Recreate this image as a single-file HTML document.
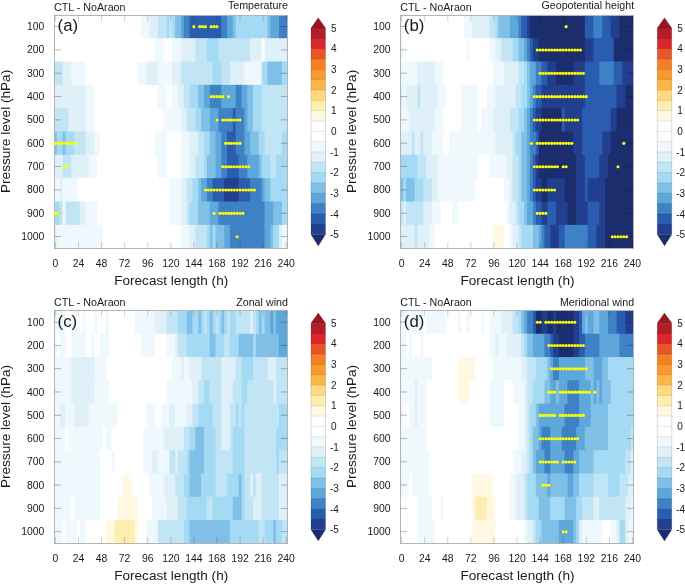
<!DOCTYPE html>
<html><head><meta charset="utf-8"><style>
html,body{margin:0;padding:0;background:#fff;}
body{width:685px;height:584px;overflow:hidden;}
svg{display:block;}
text{font-family:"Liberation Sans",sans-serif;fill:#1a1a1a;}
.tt{font-size:10.7px;}
.tk{font-size:10.4px;}
.cb{font-size:10px;}
.ax{font-size:13.6px;}
.pl{font-size:16.8px;}
</style></head><body>
<svg width="685" height="584" viewBox="0 0 685 584" style="will-change:transform">
<rect width="685" height="584" fill="#fff"/>
<clipPath id="cpa"><rect x="54.50" y="14.85" width="233.10" height="233.35"/></clipPath>
<g clip-path="url(#cpa)">
<rect x="53.96" y="14.85" width="87.55" height="24.34" fill="#ffffff"/>
<rect x="140.51" y="14.85" width="9.66" height="24.34" fill="#eff8fc"/>
<rect x="149.16" y="14.85" width="9.66" height="24.34" fill="#dff0f9"/>
<rect x="157.82" y="14.85" width="9.66" height="24.34" fill="#c2e5f6"/>
<rect x="166.47" y="14.85" width="3.88" height="24.34" fill="#a4daf4"/>
<rect x="169.36" y="14.85" width="3.88" height="24.34" fill="#c2e5f6"/>
<rect x="172.24" y="14.85" width="3.89" height="24.34" fill="#a4daf4"/>
<rect x="175.13" y="14.85" width="6.77" height="24.34" fill="#80c0e7"/>
<rect x="180.90" y="14.85" width="3.89" height="24.34" fill="#5ea7da"/>
<rect x="183.78" y="14.85" width="6.77" height="24.34" fill="#3f81c5"/>
<rect x="189.55" y="14.85" width="32.73" height="24.34" fill="#2a5cb0"/>
<rect x="221.29" y="14.85" width="6.77" height="24.34" fill="#3f81c5"/>
<rect x="227.06" y="14.85" width="6.77" height="24.34" fill="#5ea7da"/>
<rect x="232.83" y="14.85" width="3.89" height="24.34" fill="#80c0e7"/>
<rect x="235.71" y="14.85" width="32.73" height="24.34" fill="#a4daf4"/>
<rect x="267.45" y="14.85" width="3.88" height="24.34" fill="#80c0e7"/>
<rect x="270.33" y="14.85" width="9.65" height="24.34" fill="#5ea7da"/>
<rect x="278.99" y="14.85" width="8.66" height="24.34" fill="#3f81c5"/>
<rect x="53.96" y="38.19" width="101.98" height="24.34" fill="#ffffff"/>
<rect x="154.93" y="38.19" width="9.65" height="24.34" fill="#eff8fc"/>
<rect x="163.59" y="38.19" width="9.66" height="24.34" fill="#ffffff"/>
<rect x="172.24" y="38.19" width="9.66" height="24.34" fill="#eff8fc"/>
<rect x="180.90" y="38.19" width="15.43" height="24.34" fill="#dff0f9"/>
<rect x="195.32" y="38.19" width="12.54" height="24.34" fill="#c2e5f6"/>
<rect x="206.86" y="38.19" width="12.54" height="24.34" fill="#a4daf4"/>
<rect x="218.40" y="38.19" width="32.73" height="24.34" fill="#c2e5f6"/>
<rect x="250.14" y="38.19" width="12.54" height="24.34" fill="#dff0f9"/>
<rect x="261.68" y="38.19" width="3.89" height="24.34" fill="#ffffff"/>
<rect x="264.56" y="38.19" width="23.08" height="24.34" fill="#dff0f9"/>
<rect x="53.96" y="61.52" width="9.66" height="24.34" fill="#c2e5f6"/>
<rect x="62.61" y="61.52" width="9.66" height="24.34" fill="#dff0f9"/>
<rect x="71.27" y="61.52" width="15.42" height="24.34" fill="#eff8fc"/>
<rect x="85.69" y="61.52" width="52.93" height="24.34" fill="#ffffff"/>
<rect x="137.62" y="61.52" width="9.66" height="24.34" fill="#eff8fc"/>
<rect x="146.28" y="61.52" width="12.54" height="24.34" fill="#dff0f9"/>
<rect x="157.82" y="61.52" width="15.42" height="24.34" fill="#eff8fc"/>
<rect x="172.24" y="61.52" width="9.66" height="24.34" fill="#dff0f9"/>
<rect x="180.90" y="61.52" width="32.74" height="24.34" fill="#c2e5f6"/>
<rect x="212.63" y="61.52" width="9.66" height="24.34" fill="#a4daf4"/>
<rect x="221.29" y="61.52" width="9.66" height="24.34" fill="#c2e5f6"/>
<rect x="229.94" y="61.52" width="15.42" height="24.34" fill="#dff0f9"/>
<rect x="244.37" y="61.52" width="18.31" height="24.34" fill="#eff8fc"/>
<rect x="261.68" y="61.52" width="6.77" height="24.34" fill="#a4daf4"/>
<rect x="267.45" y="61.52" width="15.43" height="24.34" fill="#80c0e7"/>
<rect x="281.87" y="61.52" width="5.77" height="24.34" fill="#a4daf4"/>
<rect x="53.96" y="84.85" width="32.73" height="24.34" fill="#dff0f9"/>
<rect x="85.69" y="84.85" width="9.66" height="24.34" fill="#eff8fc"/>
<rect x="94.35" y="84.85" width="64.47" height="24.34" fill="#ffffff"/>
<rect x="157.82" y="84.85" width="9.66" height="24.34" fill="#eff8fc"/>
<rect x="166.47" y="84.85" width="6.77" height="24.34" fill="#ffffff"/>
<rect x="172.24" y="84.85" width="6.77" height="24.34" fill="#eff8fc"/>
<rect x="178.01" y="84.85" width="6.77" height="24.34" fill="#dff0f9"/>
<rect x="183.78" y="84.85" width="6.77" height="24.34" fill="#c2e5f6"/>
<rect x="189.55" y="84.85" width="9.65" height="24.34" fill="#a4daf4"/>
<rect x="198.21" y="84.85" width="6.77" height="24.34" fill="#80c0e7"/>
<rect x="203.98" y="84.85" width="6.77" height="24.34" fill="#5ea7da"/>
<rect x="209.75" y="84.85" width="12.54" height="24.34" fill="#3f81c5"/>
<rect x="221.29" y="84.85" width="15.43" height="24.34" fill="#5ea7da"/>
<rect x="235.71" y="84.85" width="6.77" height="24.34" fill="#3f81c5"/>
<rect x="241.48" y="84.85" width="6.77" height="24.34" fill="#5ea7da"/>
<rect x="247.25" y="84.85" width="6.77" height="24.34" fill="#80c0e7"/>
<rect x="253.02" y="84.85" width="9.65" height="24.34" fill="#a4daf4"/>
<rect x="261.68" y="84.85" width="25.97" height="24.34" fill="#c2e5f6"/>
<rect x="53.96" y="108.19" width="15.42" height="24.34" fill="#c2e5f6"/>
<rect x="68.38" y="108.19" width="18.31" height="24.34" fill="#dff0f9"/>
<rect x="85.69" y="108.19" width="9.66" height="24.34" fill="#eff8fc"/>
<rect x="94.35" y="108.19" width="70.24" height="24.34" fill="#ffffff"/>
<rect x="163.59" y="108.19" width="18.31" height="24.34" fill="#eff8fc"/>
<rect x="180.90" y="108.19" width="6.77" height="24.34" fill="#dff0f9"/>
<rect x="186.67" y="108.19" width="9.66" height="24.34" fill="#c2e5f6"/>
<rect x="195.32" y="108.19" width="6.77" height="24.34" fill="#a4daf4"/>
<rect x="201.09" y="108.19" width="9.66" height="24.34" fill="#80c0e7"/>
<rect x="209.75" y="108.19" width="9.66" height="24.34" fill="#5ea7da"/>
<rect x="218.40" y="108.19" width="15.42" height="24.34" fill="#3f81c5"/>
<rect x="232.83" y="108.19" width="3.89" height="24.34" fill="#2a5cb0"/>
<rect x="235.71" y="108.19" width="9.65" height="24.34" fill="#3f81c5"/>
<rect x="244.37" y="108.19" width="3.89" height="24.34" fill="#5ea7da"/>
<rect x="247.25" y="108.19" width="6.77" height="24.34" fill="#80c0e7"/>
<rect x="253.02" y="108.19" width="9.65" height="24.34" fill="#a4daf4"/>
<rect x="261.68" y="108.19" width="25.97" height="24.34" fill="#c2e5f6"/>
<rect x="53.96" y="131.53" width="3.89" height="24.34" fill="#80c0e7"/>
<rect x="56.84" y="131.53" width="6.77" height="24.34" fill="#a4daf4"/>
<rect x="62.61" y="131.53" width="3.89" height="24.34" fill="#80c0e7"/>
<rect x="65.50" y="131.53" width="9.66" height="24.34" fill="#a4daf4"/>
<rect x="74.15" y="131.53" width="12.54" height="24.34" fill="#c2e5f6"/>
<rect x="85.69" y="131.53" width="9.66" height="24.34" fill="#dff0f9"/>
<rect x="94.35" y="131.53" width="6.77" height="24.34" fill="#eff8fc"/>
<rect x="100.12" y="131.53" width="55.82" height="24.34" fill="#ffffff"/>
<rect x="154.93" y="131.53" width="12.54" height="24.34" fill="#eff8fc"/>
<rect x="166.47" y="131.53" width="15.42" height="24.34" fill="#ffffff"/>
<rect x="180.90" y="131.53" width="9.66" height="24.34" fill="#eff8fc"/>
<rect x="189.55" y="131.53" width="9.65" height="24.34" fill="#dff0f9"/>
<rect x="198.21" y="131.53" width="6.77" height="24.34" fill="#c2e5f6"/>
<rect x="203.98" y="131.53" width="6.77" height="24.34" fill="#a4daf4"/>
<rect x="209.75" y="131.53" width="6.77" height="24.34" fill="#80c0e7"/>
<rect x="215.52" y="131.53" width="6.77" height="24.34" fill="#5ea7da"/>
<rect x="221.29" y="131.53" width="6.77" height="24.34" fill="#3f81c5"/>
<rect x="227.06" y="131.53" width="9.66" height="24.34" fill="#2a5cb0"/>
<rect x="235.71" y="131.53" width="9.65" height="24.34" fill="#3f81c5"/>
<rect x="244.37" y="131.53" width="6.77" height="24.34" fill="#5ea7da"/>
<rect x="250.14" y="131.53" width="9.65" height="24.34" fill="#80c0e7"/>
<rect x="258.79" y="131.53" width="6.77" height="24.34" fill="#a4daf4"/>
<rect x="264.56" y="131.53" width="18.31" height="24.34" fill="#c2e5f6"/>
<rect x="281.87" y="131.53" width="5.77" height="24.34" fill="#a4daf4"/>
<rect x="53.96" y="154.86" width="9.66" height="24.34" fill="#dff0f9"/>
<rect x="62.61" y="154.86" width="9.66" height="24.34" fill="#c2e5f6"/>
<rect x="71.27" y="154.86" width="18.31" height="24.34" fill="#dff0f9"/>
<rect x="88.58" y="154.86" width="9.66" height="24.34" fill="#eff8fc"/>
<rect x="97.23" y="154.86" width="61.59" height="24.34" fill="#ffffff"/>
<rect x="157.82" y="154.86" width="9.66" height="24.34" fill="#eff8fc"/>
<rect x="166.47" y="154.86" width="15.42" height="24.34" fill="#ffffff"/>
<rect x="180.90" y="154.86" width="9.66" height="24.34" fill="#eff8fc"/>
<rect x="189.55" y="154.86" width="6.77" height="24.34" fill="#dff0f9"/>
<rect x="195.32" y="154.86" width="9.66" height="24.34" fill="#c2e5f6"/>
<rect x="203.98" y="154.86" width="3.88" height="24.34" fill="#a4daf4"/>
<rect x="206.86" y="154.86" width="9.66" height="24.34" fill="#80c0e7"/>
<rect x="215.52" y="154.86" width="6.77" height="24.34" fill="#5ea7da"/>
<rect x="221.29" y="154.86" width="6.77" height="24.34" fill="#3f81c5"/>
<rect x="227.06" y="154.86" width="12.54" height="24.34" fill="#2a5cb0"/>
<rect x="238.60" y="154.86" width="9.66" height="24.34" fill="#3f81c5"/>
<rect x="247.25" y="154.86" width="12.54" height="24.34" fill="#5ea7da"/>
<rect x="258.79" y="154.86" width="3.88" height="24.34" fill="#80c0e7"/>
<rect x="261.68" y="154.86" width="9.66" height="24.34" fill="#a4daf4"/>
<rect x="270.33" y="154.86" width="6.77" height="24.34" fill="#c2e5f6"/>
<rect x="276.10" y="154.86" width="11.54" height="24.34" fill="#a4daf4"/>
<rect x="53.96" y="178.19" width="6.77" height="24.34" fill="#eff8fc"/>
<rect x="59.73" y="178.19" width="3.88" height="24.34" fill="#dff0f9"/>
<rect x="62.61" y="178.19" width="15.42" height="24.34" fill="#eff8fc"/>
<rect x="77.04" y="178.19" width="93.32" height="24.34" fill="#ffffff"/>
<rect x="169.36" y="178.19" width="12.54" height="24.34" fill="#eff8fc"/>
<rect x="180.90" y="178.19" width="6.77" height="24.34" fill="#dff0f9"/>
<rect x="186.67" y="178.19" width="6.77" height="24.34" fill="#c2e5f6"/>
<rect x="192.44" y="178.19" width="6.77" height="24.34" fill="#a4daf4"/>
<rect x="198.21" y="178.19" width="3.89" height="24.34" fill="#80c0e7"/>
<rect x="201.09" y="178.19" width="6.77" height="24.34" fill="#5ea7da"/>
<rect x="206.86" y="178.19" width="6.77" height="24.34" fill="#3f81c5"/>
<rect x="212.63" y="178.19" width="12.54" height="24.34" fill="#2a5cb0"/>
<rect x="224.17" y="178.19" width="15.43" height="24.34" fill="#213f8e"/>
<rect x="238.60" y="178.19" width="12.54" height="24.34" fill="#2a5cb0"/>
<rect x="250.14" y="178.19" width="12.54" height="24.34" fill="#3f81c5"/>
<rect x="261.68" y="178.19" width="3.89" height="24.34" fill="#5ea7da"/>
<rect x="264.56" y="178.19" width="6.77" height="24.34" fill="#80c0e7"/>
<rect x="270.33" y="178.19" width="17.31" height="24.34" fill="#a4daf4"/>
<rect x="53.96" y="201.53" width="6.77" height="24.34" fill="#a4daf4"/>
<rect x="59.73" y="201.53" width="3.88" height="24.34" fill="#c2e5f6"/>
<rect x="62.61" y="201.53" width="3.89" height="24.34" fill="#eff8fc"/>
<rect x="65.50" y="201.53" width="15.42" height="24.34" fill="#c2e5f6"/>
<rect x="79.92" y="201.53" width="6.77" height="24.34" fill="#dff0f9"/>
<rect x="85.69" y="201.53" width="12.54" height="24.34" fill="#eff8fc"/>
<rect x="97.23" y="201.53" width="73.12" height="24.34" fill="#ffffff"/>
<rect x="169.36" y="201.53" width="12.54" height="24.34" fill="#eff8fc"/>
<rect x="180.90" y="201.53" width="6.77" height="24.34" fill="#dff0f9"/>
<rect x="186.67" y="201.53" width="3.89" height="24.34" fill="#c2e5f6"/>
<rect x="189.55" y="201.53" width="9.65" height="24.34" fill="#a4daf4"/>
<rect x="198.21" y="201.53" width="12.54" height="24.34" fill="#80c0e7"/>
<rect x="209.75" y="201.53" width="9.66" height="24.34" fill="#5ea7da"/>
<rect x="218.40" y="201.53" width="47.16" height="24.34" fill="#3f81c5"/>
<rect x="264.56" y="201.53" width="9.65" height="24.34" fill="#5ea7da"/>
<rect x="273.22" y="201.53" width="9.66" height="24.34" fill="#80c0e7"/>
<rect x="281.87" y="201.53" width="5.77" height="24.34" fill="#a4daf4"/>
<rect x="53.96" y="224.87" width="3.89" height="23.34" fill="#dff0f9"/>
<rect x="56.84" y="224.87" width="47.16" height="23.34" fill="#eff8fc"/>
<rect x="103.00" y="224.87" width="78.89" height="23.34" fill="#ffffff"/>
<rect x="180.90" y="224.87" width="9.66" height="23.34" fill="#eff8fc"/>
<rect x="189.55" y="224.87" width="6.77" height="23.34" fill="#dff0f9"/>
<rect x="195.32" y="224.87" width="12.54" height="23.34" fill="#c2e5f6"/>
<rect x="206.86" y="224.87" width="3.89" height="23.34" fill="#a4daf4"/>
<rect x="209.75" y="224.87" width="3.88" height="23.34" fill="#80c0e7"/>
<rect x="212.63" y="224.87" width="3.88" height="23.34" fill="#a4daf4"/>
<rect x="215.52" y="224.87" width="9.66" height="23.34" fill="#80c0e7"/>
<rect x="224.17" y="224.87" width="6.77" height="23.34" fill="#5ea7da"/>
<rect x="229.94" y="224.87" width="35.62" height="23.34" fill="#3f81c5"/>
<rect x="264.56" y="224.87" width="6.77" height="23.34" fill="#5ea7da"/>
<rect x="270.33" y="224.87" width="3.88" height="23.34" fill="#80c0e7"/>
<rect x="273.22" y="224.87" width="6.77" height="23.34" fill="#a4daf4"/>
<rect x="278.99" y="224.87" width="3.89" height="23.34" fill="#dff0f9"/>
<rect x="281.87" y="224.87" width="5.77" height="23.34" fill="#eff8fc"/>
</g>
<rect x="54.50" y="15.50" width="233.00" height="233.00" fill="none" stroke="#b4b4b4" stroke-width="1"/>
<path d="M55.40 248.50v-6.5M55.40 15.50v6M78.48 248.50v-6.5M78.48 15.50v6M101.56 248.50v-6.5M101.56 15.50v6M124.64 248.50v-6.5M124.64 15.50v6M147.72 248.50v-6.5M147.72 15.50v6M170.80 248.50v-6.5M170.80 15.50v6M193.88 248.50v-6.5M193.88 15.50v6M216.96 248.50v-6.5M216.96 15.50v6M240.04 248.50v-6.5M240.04 15.50v6M263.12 248.50v-6.5M263.12 15.50v6M286.20 248.50v-6.5M286.20 15.50v6" stroke="#000" stroke-opacity="0.18" stroke-width="1" fill="none"/>
<path d="M54.50 26.52h6.5M287.50 26.52h-6.5M54.50 49.85h6.5M287.50 49.85h-6.5M54.50 73.19h6.5M287.50 73.19h-6.5M54.50 96.52h6.5M287.50 96.52h-6.5M54.50 119.86h6.5M287.50 119.86h-6.5M54.50 143.19h6.5M287.50 143.19h-6.5M54.50 166.53h6.5M287.50 166.53h-6.5M54.50 189.86h6.5M287.50 189.86h-6.5M54.50 213.20h6.5M287.50 213.20h-6.5M54.50 236.53h6.5M287.50 236.53h-6.5" stroke="#000" stroke-opacity="0.3" stroke-width="0.9" fill="none"/>
<circle cx="193.88" cy="26.67" r="1.55" fill="#ffff00"/>
<circle cx="199.65" cy="26.67" r="1.55" fill="#ffff00"/>
<circle cx="202.53" cy="26.67" r="1.55" fill="#ffff00"/>
<circle cx="205.42" cy="26.67" r="1.55" fill="#ffff00"/>
<circle cx="211.19" cy="26.67" r="1.55" fill="#ffff00"/>
<circle cx="214.07" cy="26.67" r="1.55" fill="#ffff00"/>
<circle cx="216.96" cy="26.67" r="1.55" fill="#ffff00"/>
<circle cx="211.19" cy="96.67" r="1.55" fill="#ffff00"/>
<circle cx="214.07" cy="96.67" r="1.55" fill="#ffff00"/>
<circle cx="216.96" cy="96.67" r="1.55" fill="#ffff00"/>
<circle cx="219.84" cy="96.67" r="1.55" fill="#ffff00"/>
<circle cx="222.73" cy="96.67" r="1.55" fill="#ffff00"/>
<circle cx="228.50" cy="96.67" r="1.55" fill="#ffff00"/>
<circle cx="216.96" cy="120.01" r="1.55" fill="#ffff00"/>
<circle cx="222.73" cy="120.01" r="1.55" fill="#ffff00"/>
<circle cx="225.61" cy="120.01" r="1.55" fill="#ffff00"/>
<circle cx="228.50" cy="120.01" r="1.55" fill="#ffff00"/>
<circle cx="231.38" cy="120.01" r="1.55" fill="#ffff00"/>
<circle cx="234.27" cy="120.01" r="1.55" fill="#ffff00"/>
<circle cx="237.16" cy="120.01" r="1.55" fill="#ffff00"/>
<circle cx="240.04" cy="120.01" r="1.55" fill="#ffff00"/>
<circle cx="55.40" cy="143.34" r="1.55" fill="#ffff00"/>
<circle cx="58.28" cy="143.34" r="1.55" fill="#ffff00"/>
<circle cx="61.17" cy="143.34" r="1.55" fill="#ffff00"/>
<circle cx="64.05" cy="143.34" r="1.55" fill="#ffff00"/>
<circle cx="66.94" cy="143.34" r="1.55" fill="#ffff00"/>
<circle cx="69.83" cy="143.34" r="1.55" fill="#ffff00"/>
<circle cx="72.71" cy="143.34" r="1.55" fill="#ffff00"/>
<circle cx="75.59" cy="143.34" r="1.55" fill="#ffff00"/>
<circle cx="225.61" cy="143.34" r="1.55" fill="#ffff00"/>
<circle cx="228.50" cy="143.34" r="1.55" fill="#ffff00"/>
<circle cx="231.38" cy="143.34" r="1.55" fill="#ffff00"/>
<circle cx="234.27" cy="143.34" r="1.55" fill="#ffff00"/>
<circle cx="237.16" cy="143.34" r="1.55" fill="#ffff00"/>
<circle cx="240.04" cy="143.34" r="1.55" fill="#ffff00"/>
<circle cx="64.05" cy="166.68" r="1.55" fill="#ffff00"/>
<circle cx="66.94" cy="166.68" r="1.55" fill="#ffff00"/>
<circle cx="222.73" cy="166.68" r="1.55" fill="#ffff00"/>
<circle cx="225.61" cy="166.68" r="1.55" fill="#ffff00"/>
<circle cx="228.50" cy="166.68" r="1.55" fill="#ffff00"/>
<circle cx="231.38" cy="166.68" r="1.55" fill="#ffff00"/>
<circle cx="234.27" cy="166.68" r="1.55" fill="#ffff00"/>
<circle cx="237.16" cy="166.68" r="1.55" fill="#ffff00"/>
<circle cx="240.04" cy="166.68" r="1.55" fill="#ffff00"/>
<circle cx="242.92" cy="166.68" r="1.55" fill="#ffff00"/>
<circle cx="245.81" cy="166.68" r="1.55" fill="#ffff00"/>
<circle cx="248.69" cy="166.68" r="1.55" fill="#ffff00"/>
<circle cx="205.42" cy="190.01" r="1.55" fill="#ffff00"/>
<circle cx="208.31" cy="190.01" r="1.55" fill="#ffff00"/>
<circle cx="211.19" cy="190.01" r="1.55" fill="#ffff00"/>
<circle cx="214.07" cy="190.01" r="1.55" fill="#ffff00"/>
<circle cx="216.96" cy="190.01" r="1.55" fill="#ffff00"/>
<circle cx="219.84" cy="190.01" r="1.55" fill="#ffff00"/>
<circle cx="222.73" cy="190.01" r="1.55" fill="#ffff00"/>
<circle cx="225.61" cy="190.01" r="1.55" fill="#ffff00"/>
<circle cx="228.50" cy="190.01" r="1.55" fill="#ffff00"/>
<circle cx="231.38" cy="190.01" r="1.55" fill="#ffff00"/>
<circle cx="234.27" cy="190.01" r="1.55" fill="#ffff00"/>
<circle cx="237.16" cy="190.01" r="1.55" fill="#ffff00"/>
<circle cx="240.04" cy="190.01" r="1.55" fill="#ffff00"/>
<circle cx="242.92" cy="190.01" r="1.55" fill="#ffff00"/>
<circle cx="245.81" cy="190.01" r="1.55" fill="#ffff00"/>
<circle cx="248.69" cy="190.01" r="1.55" fill="#ffff00"/>
<circle cx="251.58" cy="190.01" r="1.55" fill="#ffff00"/>
<circle cx="254.47" cy="190.01" r="1.55" fill="#ffff00"/>
<circle cx="55.40" cy="213.35" r="1.55" fill="#ffff00"/>
<circle cx="58.28" cy="213.35" r="1.55" fill="#ffff00"/>
<circle cx="214.07" cy="213.35" r="1.55" fill="#ffff00"/>
<circle cx="219.84" cy="213.35" r="1.55" fill="#ffff00"/>
<circle cx="222.73" cy="213.35" r="1.55" fill="#ffff00"/>
<circle cx="225.61" cy="213.35" r="1.55" fill="#ffff00"/>
<circle cx="228.50" cy="213.35" r="1.55" fill="#ffff00"/>
<circle cx="231.38" cy="213.35" r="1.55" fill="#ffff00"/>
<circle cx="234.27" cy="213.35" r="1.55" fill="#ffff00"/>
<circle cx="237.16" cy="213.35" r="1.55" fill="#ffff00"/>
<circle cx="240.04" cy="213.35" r="1.55" fill="#ffff00"/>
<circle cx="242.92" cy="213.35" r="1.55" fill="#ffff00"/>
<circle cx="237.16" cy="236.68" r="1.55" fill="#ffff00"/>
<path d="M311.00 28.00L318.25 17.80L325.50 28.00Z" fill="#9a1421"/>
<rect x="311.00" y="28.00" width="14.50" height="11.13" fill="#b11d28"/>
<rect x="311.00" y="38.33" width="14.50" height="11.13" fill="#d8262b"/>
<rect x="311.00" y="48.66" width="14.50" height="11.13" fill="#e9552a"/>
<rect x="311.00" y="58.99" width="14.50" height="11.13" fill="#f57f25"/>
<rect x="311.00" y="69.32" width="14.50" height="11.13" fill="#f99a2e"/>
<rect x="311.00" y="79.65" width="14.50" height="11.13" fill="#fcb646"/>
<rect x="311.00" y="89.98" width="14.50" height="11.13" fill="#fed97f"/>
<rect x="311.00" y="100.31" width="14.50" height="11.13" fill="#fdeeb0"/>
<rect x="311.00" y="110.64" width="14.50" height="11.13" fill="#fff9e3"/>
<rect x="311.00" y="120.97" width="14.50" height="11.13" fill="#ffffff"/>
<rect x="311.00" y="131.30" width="14.50" height="11.13" fill="#ffffff"/>
<rect x="311.00" y="141.63" width="14.50" height="11.13" fill="#eff8fc"/>
<rect x="311.00" y="151.96" width="14.50" height="11.13" fill="#dff0f9"/>
<rect x="311.00" y="162.29" width="14.50" height="11.13" fill="#c2e5f6"/>
<rect x="311.00" y="172.62" width="14.50" height="11.13" fill="#a4daf4"/>
<rect x="311.00" y="182.95" width="14.50" height="11.13" fill="#80c0e7"/>
<rect x="311.00" y="193.28" width="14.50" height="11.13" fill="#5ea7da"/>
<rect x="311.00" y="203.61" width="14.50" height="11.13" fill="#3f81c5"/>
<rect x="311.00" y="213.94" width="14.50" height="11.13" fill="#2a5cb0"/>
<rect x="311.00" y="224.27" width="14.50" height="10.33" fill="#213f8e"/>
<path d="M311.00 234.60L318.25 246.00L325.50 234.60Z" fill="#1c2d6e"/>
<path d="M311.00 28.00H325.50M311.00 38.33H325.50M311.00 48.66H325.50M311.00 58.99H325.50M311.00 69.32H325.50M311.00 79.65H325.50M311.00 89.98H325.50M311.00 100.31H325.50M311.00 110.64H325.50M311.00 120.97H325.50M311.00 131.30H325.50M311.00 141.63H325.50M311.00 151.96H325.50M311.00 162.29H325.50M311.00 172.62H325.50M311.00 182.95H325.50M311.00 193.28H325.50M311.00 203.61H325.50M311.00 213.94H325.50M311.00 224.27H325.50M311.00 234.60H325.50" fill="none" stroke="#000" stroke-opacity="0.13" stroke-width="0.7"/>
<path d="M311.00 28.00L318.25 17.80L325.50 28.00V234.60L318.25 246.00L311.00 234.60Z" fill="none" stroke="#000" stroke-opacity="0.2" stroke-width="0.7"/>
<text x="331.10" y="31.70" class="cb">5</text>
<text x="331.10" y="52.36" class="cb">4</text>
<text x="331.10" y="73.02" class="cb">3</text>
<text x="331.10" y="93.68" class="cb">2</text>
<text x="331.10" y="114.34" class="cb">1</text>
<text x="331.10" y="135.00" class="cb">0</text>
<text x="329.90" y="155.66" class="cb">-1</text>
<text x="329.90" y="176.32" class="cb">-2</text>
<text x="329.90" y="196.98" class="cb">-3</text>
<text x="329.90" y="217.64" class="cb">-4</text>
<text x="329.90" y="238.30" class="cb">-5</text>
<text x="54.00" y="10.70" class="tt">CTL - NoAraon</text>
<text x="287.90" y="8.50" class="tt" text-anchor="end">Temperature</text>
<text x="57.60" y="30.90" class="pl">(a)</text>
<text x="44.30" y="30.12" class="tk" text-anchor="end">100</text>
<text x="44.30" y="53.45" class="tk" text-anchor="end">200</text>
<text x="44.30" y="76.79" class="tk" text-anchor="end">300</text>
<text x="44.30" y="100.12" class="tk" text-anchor="end">400</text>
<text x="44.30" y="123.46" class="tk" text-anchor="end">500</text>
<text x="44.30" y="146.79" class="tk" text-anchor="end">600</text>
<text x="44.30" y="170.13" class="tk" text-anchor="end">700</text>
<text x="44.30" y="193.46" class="tk" text-anchor="end">800</text>
<text x="44.30" y="216.80" class="tk" text-anchor="end">900</text>
<text x="44.30" y="240.13" class="tk" text-anchor="end">1000</text>
<text x="55.40" y="267.20" class="tk" text-anchor="middle">0</text>
<text x="78.48" y="267.20" class="tk" text-anchor="middle">24</text>
<text x="101.56" y="267.20" class="tk" text-anchor="middle">48</text>
<text x="124.64" y="267.20" class="tk" text-anchor="middle">72</text>
<text x="147.72" y="267.20" class="tk" text-anchor="middle">96</text>
<text x="170.80" y="267.20" class="tk" text-anchor="middle">120</text>
<text x="193.88" y="267.20" class="tk" text-anchor="middle">144</text>
<text x="216.96" y="267.20" class="tk" text-anchor="middle">168</text>
<text x="240.04" y="267.20" class="tk" text-anchor="middle">192</text>
<text x="263.12" y="267.20" class="tk" text-anchor="middle">216</text>
<text x="286.20" y="267.20" class="tk" text-anchor="middle">240</text>
<text x="171.20" y="285.00" class="ax" text-anchor="middle">Forecast length (h)</text>
<text transform="translate(10.20,131.40) rotate(-90)" class="ax" text-anchor="middle">Pressure level (hPa)</text>
<clipPath id="cpb"><rect x="400.75" y="14.85" width="233.10" height="233.35"/></clipPath>
<g clip-path="url(#cpb)">
<rect x="400.21" y="14.85" width="3.88" height="24.34" fill="#eff8fc"/>
<rect x="403.09" y="14.85" width="61.58" height="24.34" fill="#ffffff"/>
<rect x="463.68" y="14.85" width="9.66" height="24.34" fill="#eff8fc"/>
<rect x="472.33" y="14.85" width="18.31" height="24.34" fill="#dff0f9"/>
<rect x="489.64" y="14.85" width="6.77" height="24.34" fill="#c2e5f6"/>
<rect x="495.41" y="14.85" width="3.88" height="24.34" fill="#a4daf4"/>
<rect x="498.30" y="14.85" width="12.54" height="24.34" fill="#80c0e7"/>
<rect x="509.84" y="14.85" width="9.65" height="24.34" fill="#5ea7da"/>
<rect x="518.49" y="14.85" width="3.88" height="24.34" fill="#3f81c5"/>
<rect x="521.38" y="14.85" width="6.77" height="24.34" fill="#2a5cb0"/>
<rect x="527.15" y="14.85" width="3.89" height="24.34" fill="#213f8e"/>
<rect x="530.03" y="14.85" width="55.81" height="24.34" fill="#1c2d6e"/>
<rect x="584.85" y="14.85" width="9.65" height="24.34" fill="#2a5cb0"/>
<rect x="593.50" y="14.85" width="9.66" height="24.34" fill="#3f81c5"/>
<rect x="602.16" y="14.85" width="9.65" height="24.34" fill="#2a5cb0"/>
<rect x="610.81" y="14.85" width="9.65" height="24.34" fill="#213f8e"/>
<rect x="619.47" y="14.85" width="14.42" height="24.34" fill="#1c2d6e"/>
<rect x="400.21" y="38.19" width="3.88" height="24.34" fill="#eff8fc"/>
<rect x="403.09" y="38.19" width="64.47" height="24.34" fill="#ffffff"/>
<rect x="466.56" y="38.19" width="3.88" height="24.34" fill="#eff8fc"/>
<rect x="469.45" y="38.19" width="21.19" height="24.34" fill="#ffffff"/>
<rect x="489.64" y="38.19" width="6.77" height="24.34" fill="#eff8fc"/>
<rect x="495.41" y="38.19" width="6.77" height="24.34" fill="#dff0f9"/>
<rect x="501.18" y="38.19" width="12.54" height="24.34" fill="#c2e5f6"/>
<rect x="512.72" y="38.19" width="6.77" height="24.34" fill="#a4daf4"/>
<rect x="518.49" y="38.19" width="6.77" height="24.34" fill="#80c0e7"/>
<rect x="524.26" y="38.19" width="3.88" height="24.34" fill="#5ea7da"/>
<rect x="527.15" y="38.19" width="3.89" height="24.34" fill="#3f81c5"/>
<rect x="530.03" y="38.19" width="3.88" height="24.34" fill="#2a5cb0"/>
<rect x="532.92" y="38.19" width="6.77" height="24.34" fill="#213f8e"/>
<rect x="538.69" y="38.19" width="47.16" height="24.34" fill="#1c2d6e"/>
<rect x="584.85" y="38.19" width="9.65" height="24.34" fill="#213f8e"/>
<rect x="593.50" y="38.19" width="21.20" height="24.34" fill="#2a5cb0"/>
<rect x="613.70" y="38.19" width="20.19" height="24.34" fill="#1c2d6e"/>
<rect x="400.21" y="61.52" width="18.31" height="24.34" fill="#eff8fc"/>
<rect x="417.52" y="61.52" width="18.31" height="24.34" fill="#dff0f9"/>
<rect x="434.83" y="61.52" width="9.65" height="24.34" fill="#eff8fc"/>
<rect x="443.48" y="61.52" width="50.05" height="24.34" fill="#ffffff"/>
<rect x="492.53" y="61.52" width="12.54" height="24.34" fill="#eff8fc"/>
<rect x="504.07" y="61.52" width="15.42" height="24.34" fill="#dff0f9"/>
<rect x="518.49" y="61.52" width="6.77" height="24.34" fill="#c2e5f6"/>
<rect x="524.26" y="61.52" width="3.88" height="24.34" fill="#a4daf4"/>
<rect x="527.15" y="61.52" width="3.89" height="24.34" fill="#80c0e7"/>
<rect x="530.03" y="61.52" width="6.77" height="24.34" fill="#5ea7da"/>
<rect x="535.80" y="61.52" width="6.77" height="24.34" fill="#3f81c5"/>
<rect x="541.57" y="61.52" width="6.77" height="24.34" fill="#2a5cb0"/>
<rect x="547.34" y="61.52" width="9.65" height="24.34" fill="#213f8e"/>
<rect x="556.00" y="61.52" width="18.31" height="24.34" fill="#1c2d6e"/>
<rect x="573.31" y="61.52" width="12.54" height="24.34" fill="#213f8e"/>
<rect x="584.85" y="61.52" width="15.42" height="24.34" fill="#2a5cb0"/>
<rect x="599.27" y="61.52" width="15.43" height="24.34" fill="#3f81c5"/>
<rect x="613.70" y="61.52" width="9.65" height="24.34" fill="#2a5cb0"/>
<rect x="622.35" y="61.52" width="11.54" height="24.34" fill="#213f8e"/>
<rect x="400.21" y="84.85" width="3.88" height="24.34" fill="#dff0f9"/>
<rect x="403.09" y="84.85" width="3.88" height="24.34" fill="#eff8fc"/>
<rect x="405.98" y="84.85" width="12.54" height="24.34" fill="#dff0f9"/>
<rect x="417.52" y="84.85" width="3.88" height="24.34" fill="#c2e5f6"/>
<rect x="420.40" y="84.85" width="18.31" height="24.34" fill="#dff0f9"/>
<rect x="437.71" y="84.85" width="9.65" height="24.34" fill="#eff8fc"/>
<rect x="446.37" y="84.85" width="15.43" height="24.34" fill="#ffffff"/>
<rect x="460.79" y="84.85" width="18.31" height="24.34" fill="#eff8fc"/>
<rect x="478.10" y="84.85" width="9.65" height="24.34" fill="#ffffff"/>
<rect x="486.76" y="84.85" width="9.66" height="24.34" fill="#eff8fc"/>
<rect x="495.41" y="84.85" width="21.19" height="24.34" fill="#dff0f9"/>
<rect x="515.61" y="84.85" width="6.77" height="24.34" fill="#c2e5f6"/>
<rect x="521.38" y="84.85" width="6.77" height="24.34" fill="#a4daf4"/>
<rect x="527.15" y="84.85" width="3.89" height="24.34" fill="#80c0e7"/>
<rect x="530.03" y="84.85" width="3.88" height="24.34" fill="#5ea7da"/>
<rect x="532.92" y="84.85" width="3.88" height="24.34" fill="#3f81c5"/>
<rect x="535.80" y="84.85" width="6.77" height="24.34" fill="#2a5cb0"/>
<rect x="541.57" y="84.85" width="44.27" height="24.34" fill="#213f8e"/>
<rect x="584.85" y="84.85" width="32.74" height="24.34" fill="#2a5cb0"/>
<rect x="616.58" y="84.85" width="9.65" height="24.34" fill="#213f8e"/>
<rect x="625.24" y="84.85" width="8.65" height="24.34" fill="#1c2d6e"/>
<rect x="400.21" y="108.19" width="9.65" height="24.34" fill="#eff8fc"/>
<rect x="408.86" y="108.19" width="26.97" height="24.34" fill="#dff0f9"/>
<rect x="434.83" y="108.19" width="9.65" height="24.34" fill="#eff8fc"/>
<rect x="443.48" y="108.19" width="18.31" height="24.34" fill="#ffffff"/>
<rect x="460.79" y="108.19" width="18.31" height="24.34" fill="#eff8fc"/>
<rect x="478.10" y="108.19" width="3.88" height="24.34" fill="#ffffff"/>
<rect x="480.99" y="108.19" width="12.54" height="24.34" fill="#eff8fc"/>
<rect x="492.53" y="108.19" width="18.31" height="24.34" fill="#dff0f9"/>
<rect x="509.84" y="108.19" width="9.65" height="24.34" fill="#c2e5f6"/>
<rect x="518.49" y="108.19" width="6.77" height="24.34" fill="#a4daf4"/>
<rect x="524.26" y="108.19" width="3.88" height="24.34" fill="#80c0e7"/>
<rect x="527.15" y="108.19" width="3.89" height="24.34" fill="#5ea7da"/>
<rect x="530.03" y="108.19" width="3.88" height="24.34" fill="#3f81c5"/>
<rect x="532.92" y="108.19" width="3.88" height="24.34" fill="#2a5cb0"/>
<rect x="535.80" y="108.19" width="6.77" height="24.34" fill="#213f8e"/>
<rect x="541.57" y="108.19" width="21.19" height="24.34" fill="#1c2d6e"/>
<rect x="561.77" y="108.19" width="3.88" height="24.34" fill="#2a5cb0"/>
<rect x="564.65" y="108.19" width="18.31" height="24.34" fill="#213f8e"/>
<rect x="581.96" y="108.19" width="29.85" height="24.34" fill="#2a5cb0"/>
<rect x="610.81" y="108.19" width="6.77" height="24.34" fill="#213f8e"/>
<rect x="616.58" y="108.19" width="17.31" height="24.34" fill="#1c2d6e"/>
<rect x="400.21" y="131.53" width="12.54" height="24.34" fill="#dff0f9"/>
<rect x="411.75" y="131.53" width="3.88" height="24.34" fill="#c2e5f6"/>
<rect x="414.63" y="131.53" width="6.77" height="24.34" fill="#dff0f9"/>
<rect x="420.40" y="131.53" width="3.88" height="24.34" fill="#c2e5f6"/>
<rect x="423.29" y="131.53" width="9.66" height="24.34" fill="#dff0f9"/>
<rect x="431.94" y="131.53" width="12.54" height="24.34" fill="#eff8fc"/>
<rect x="443.48" y="131.53" width="6.77" height="24.34" fill="#ffffff"/>
<rect x="449.25" y="131.53" width="47.16" height="24.34" fill="#eff8fc"/>
<rect x="495.41" y="131.53" width="18.31" height="24.34" fill="#dff0f9"/>
<rect x="512.72" y="131.53" width="3.88" height="24.34" fill="#c2e5f6"/>
<rect x="515.61" y="131.53" width="6.77" height="24.34" fill="#a4daf4"/>
<rect x="521.38" y="131.53" width="6.77" height="24.34" fill="#80c0e7"/>
<rect x="527.15" y="131.53" width="3.89" height="24.34" fill="#5ea7da"/>
<rect x="530.03" y="131.53" width="6.77" height="24.34" fill="#3f81c5"/>
<rect x="535.80" y="131.53" width="3.88" height="24.34" fill="#2a5cb0"/>
<rect x="538.69" y="131.53" width="35.62" height="24.34" fill="#1c2d6e"/>
<rect x="573.31" y="131.53" width="9.65" height="24.34" fill="#213f8e"/>
<rect x="581.96" y="131.53" width="21.20" height="24.34" fill="#2a5cb0"/>
<rect x="602.16" y="131.53" width="9.65" height="24.34" fill="#213f8e"/>
<rect x="610.81" y="131.53" width="23.08" height="24.34" fill="#1c2d6e"/>
<rect x="400.21" y="154.86" width="18.31" height="24.34" fill="#a4daf4"/>
<rect x="417.52" y="154.86" width="9.65" height="24.34" fill="#c2e5f6"/>
<rect x="426.17" y="154.86" width="12.54" height="24.34" fill="#dff0f9"/>
<rect x="437.71" y="154.86" width="41.39" height="24.34" fill="#eff8fc"/>
<rect x="478.10" y="154.86" width="12.54" height="24.34" fill="#ffffff"/>
<rect x="489.64" y="154.86" width="18.31" height="24.34" fill="#eff8fc"/>
<rect x="506.95" y="154.86" width="6.77" height="24.34" fill="#dff0f9"/>
<rect x="512.72" y="154.86" width="6.77" height="24.34" fill="#c2e5f6"/>
<rect x="518.49" y="154.86" width="3.88" height="24.34" fill="#a4daf4"/>
<rect x="521.38" y="154.86" width="6.77" height="24.34" fill="#80c0e7"/>
<rect x="527.15" y="154.86" width="3.89" height="24.34" fill="#5ea7da"/>
<rect x="530.03" y="154.86" width="3.88" height="24.34" fill="#3f81c5"/>
<rect x="532.92" y="154.86" width="3.88" height="24.34" fill="#2a5cb0"/>
<rect x="535.80" y="154.86" width="3.88" height="24.34" fill="#213f8e"/>
<rect x="538.69" y="154.86" width="38.50" height="24.34" fill="#1c2d6e"/>
<rect x="576.19" y="154.86" width="9.65" height="24.34" fill="#213f8e"/>
<rect x="584.85" y="154.86" width="15.42" height="24.34" fill="#2a5cb0"/>
<rect x="599.27" y="154.86" width="9.66" height="24.34" fill="#213f8e"/>
<rect x="607.93" y="154.86" width="25.96" height="24.34" fill="#1c2d6e"/>
<rect x="400.21" y="178.19" width="3.88" height="24.34" fill="#80c0e7"/>
<rect x="403.09" y="178.19" width="3.88" height="24.34" fill="#a4daf4"/>
<rect x="405.98" y="178.19" width="9.66" height="24.34" fill="#80c0e7"/>
<rect x="414.63" y="178.19" width="9.65" height="24.34" fill="#a4daf4"/>
<rect x="423.29" y="178.19" width="9.66" height="24.34" fill="#c2e5f6"/>
<rect x="431.94" y="178.19" width="6.77" height="24.34" fill="#dff0f9"/>
<rect x="437.71" y="178.19" width="38.50" height="24.34" fill="#eff8fc"/>
<rect x="475.22" y="178.19" width="29.85" height="24.34" fill="#ffffff"/>
<rect x="504.07" y="178.19" width="6.77" height="24.34" fill="#eff8fc"/>
<rect x="509.84" y="178.19" width="3.88" height="24.34" fill="#dff0f9"/>
<rect x="512.72" y="178.19" width="6.77" height="24.34" fill="#c2e5f6"/>
<rect x="518.49" y="178.19" width="3.88" height="24.34" fill="#a4daf4"/>
<rect x="521.38" y="178.19" width="6.77" height="24.34" fill="#80c0e7"/>
<rect x="527.15" y="178.19" width="3.89" height="24.34" fill="#5ea7da"/>
<rect x="530.03" y="178.19" width="3.88" height="24.34" fill="#3f81c5"/>
<rect x="532.92" y="178.19" width="3.88" height="24.34" fill="#2a5cb0"/>
<rect x="535.80" y="178.19" width="6.77" height="24.34" fill="#213f8e"/>
<rect x="541.57" y="178.19" width="6.77" height="24.34" fill="#1c2d6e"/>
<rect x="547.34" y="178.19" width="18.31" height="24.34" fill="#213f8e"/>
<rect x="564.65" y="178.19" width="12.54" height="24.34" fill="#1c2d6e"/>
<rect x="576.19" y="178.19" width="9.65" height="24.34" fill="#213f8e"/>
<rect x="584.85" y="178.19" width="3.88" height="24.34" fill="#2a5cb0"/>
<rect x="587.73" y="178.19" width="18.31" height="24.34" fill="#213f8e"/>
<rect x="605.04" y="178.19" width="28.85" height="24.34" fill="#1c2d6e"/>
<rect x="400.21" y="201.53" width="3.88" height="24.34" fill="#c2e5f6"/>
<rect x="403.09" y="201.53" width="3.88" height="24.34" fill="#dff0f9"/>
<rect x="405.98" y="201.53" width="18.31" height="24.34" fill="#c2e5f6"/>
<rect x="423.29" y="201.53" width="9.66" height="24.34" fill="#dff0f9"/>
<rect x="431.94" y="201.53" width="9.65" height="24.34" fill="#eff8fc"/>
<rect x="440.60" y="201.53" width="12.54" height="24.34" fill="#ffffff"/>
<rect x="452.14" y="201.53" width="6.77" height="24.34" fill="#eff8fc"/>
<rect x="457.91" y="201.53" width="50.05" height="24.34" fill="#ffffff"/>
<rect x="506.95" y="201.53" width="3.88" height="24.34" fill="#eff8fc"/>
<rect x="509.84" y="201.53" width="6.77" height="24.34" fill="#dff0f9"/>
<rect x="515.61" y="201.53" width="3.88" height="24.34" fill="#c2e5f6"/>
<rect x="518.49" y="201.53" width="6.77" height="24.34" fill="#a4daf4"/>
<rect x="524.26" y="201.53" width="3.88" height="24.34" fill="#80c0e7"/>
<rect x="527.15" y="201.53" width="6.77" height="24.34" fill="#5ea7da"/>
<rect x="532.92" y="201.53" width="3.88" height="24.34" fill="#3f81c5"/>
<rect x="535.80" y="201.53" width="6.77" height="24.34" fill="#2a5cb0"/>
<rect x="541.57" y="201.53" width="6.77" height="24.34" fill="#213f8e"/>
<rect x="547.34" y="201.53" width="9.65" height="24.34" fill="#2a5cb0"/>
<rect x="556.00" y="201.53" width="12.54" height="24.34" fill="#213f8e"/>
<rect x="567.54" y="201.53" width="9.66" height="24.34" fill="#1c2d6e"/>
<rect x="576.19" y="201.53" width="12.54" height="24.34" fill="#213f8e"/>
<rect x="587.73" y="201.53" width="12.54" height="24.34" fill="#2a5cb0"/>
<rect x="599.27" y="201.53" width="6.77" height="24.34" fill="#213f8e"/>
<rect x="605.04" y="201.53" width="28.85" height="24.34" fill="#1c2d6e"/>
<rect x="400.21" y="224.87" width="15.43" height="23.34" fill="#dff0f9"/>
<rect x="414.63" y="224.87" width="3.88" height="23.34" fill="#c2e5f6"/>
<rect x="417.52" y="224.87" width="12.54" height="23.34" fill="#dff0f9"/>
<rect x="429.06" y="224.87" width="6.77" height="23.34" fill="#eff8fc"/>
<rect x="434.83" y="224.87" width="58.70" height="23.34" fill="#ffffff"/>
<rect x="492.53" y="224.87" width="12.54" height="23.34" fill="#fff9e3"/>
<rect x="504.07" y="224.87" width="6.77" height="23.34" fill="#ffffff"/>
<rect x="509.84" y="224.87" width="3.88" height="23.34" fill="#eff8fc"/>
<rect x="512.72" y="224.87" width="6.77" height="23.34" fill="#dff0f9"/>
<rect x="518.49" y="224.87" width="3.88" height="23.34" fill="#c2e5f6"/>
<rect x="521.38" y="224.87" width="12.54" height="23.34" fill="#a4daf4"/>
<rect x="532.92" y="224.87" width="6.77" height="23.34" fill="#80c0e7"/>
<rect x="538.69" y="224.87" width="3.88" height="23.34" fill="#5ea7da"/>
<rect x="541.57" y="224.87" width="3.88" height="23.34" fill="#3f81c5"/>
<rect x="544.46" y="224.87" width="6.77" height="23.34" fill="#2a5cb0"/>
<rect x="550.23" y="224.87" width="9.65" height="23.34" fill="#213f8e"/>
<rect x="558.88" y="224.87" width="6.77" height="23.34" fill="#2a5cb0"/>
<rect x="564.65" y="224.87" width="24.08" height="23.34" fill="#3f81c5"/>
<rect x="587.73" y="224.87" width="9.65" height="23.34" fill="#2a5cb0"/>
<rect x="596.39" y="224.87" width="9.66" height="23.34" fill="#213f8e"/>
<rect x="605.04" y="224.87" width="28.85" height="23.34" fill="#1c2d6e"/>
</g>
<rect x="400.50" y="15.50" width="233.00" height="233.00" fill="none" stroke="#b4b4b4" stroke-width="1"/>
<path d="M401.65 248.50v-6.5M401.65 15.50v6M424.73 248.50v-6.5M424.73 15.50v6M447.81 248.50v-6.5M447.81 15.50v6M470.89 248.50v-6.5M470.89 15.50v6M493.97 248.50v-6.5M493.97 15.50v6M517.05 248.50v-6.5M517.05 15.50v6M540.13 248.50v-6.5M540.13 15.50v6M563.21 248.50v-6.5M563.21 15.50v6M586.29 248.50v-6.5M586.29 15.50v6M609.37 248.50v-6.5M609.37 15.50v6M632.45 248.50v-6.5M632.45 15.50v6" stroke="#000" stroke-opacity="0.18" stroke-width="1" fill="none"/>
<path d="M400.50 26.52h6.5M633.50 26.52h-6.5M400.50 49.85h6.5M633.50 49.85h-6.5M400.50 73.19h6.5M633.50 73.19h-6.5M400.50 96.52h6.5M633.50 96.52h-6.5M400.50 119.86h6.5M633.50 119.86h-6.5M400.50 143.19h6.5M633.50 143.19h-6.5M400.50 166.53h6.5M633.50 166.53h-6.5M400.50 189.86h6.5M633.50 189.86h-6.5M400.50 213.20h6.5M633.50 213.20h-6.5M400.50 236.53h6.5M633.50 236.53h-6.5" stroke="#000" stroke-opacity="0.3" stroke-width="0.9" fill="none"/>
<circle cx="566.10" cy="26.67" r="1.55" fill="#ffff00"/>
<circle cx="537.25" cy="50.00" r="1.55" fill="#ffff00"/>
<circle cx="540.13" cy="50.00" r="1.55" fill="#ffff00"/>
<circle cx="543.01" cy="50.00" r="1.55" fill="#ffff00"/>
<circle cx="545.90" cy="50.00" r="1.55" fill="#ffff00"/>
<circle cx="548.78" cy="50.00" r="1.55" fill="#ffff00"/>
<circle cx="551.67" cy="50.00" r="1.55" fill="#ffff00"/>
<circle cx="554.55" cy="50.00" r="1.55" fill="#ffff00"/>
<circle cx="557.44" cy="50.00" r="1.55" fill="#ffff00"/>
<circle cx="560.32" cy="50.00" r="1.55" fill="#ffff00"/>
<circle cx="563.21" cy="50.00" r="1.55" fill="#ffff00"/>
<circle cx="566.10" cy="50.00" r="1.55" fill="#ffff00"/>
<circle cx="568.98" cy="50.00" r="1.55" fill="#ffff00"/>
<circle cx="571.87" cy="50.00" r="1.55" fill="#ffff00"/>
<circle cx="574.75" cy="50.00" r="1.55" fill="#ffff00"/>
<circle cx="577.63" cy="50.00" r="1.55" fill="#ffff00"/>
<circle cx="580.52" cy="50.00" r="1.55" fill="#ffff00"/>
<circle cx="540.13" cy="73.34" r="1.55" fill="#ffff00"/>
<circle cx="543.01" cy="73.34" r="1.55" fill="#ffff00"/>
<circle cx="545.90" cy="73.34" r="1.55" fill="#ffff00"/>
<circle cx="548.78" cy="73.34" r="1.55" fill="#ffff00"/>
<circle cx="551.67" cy="73.34" r="1.55" fill="#ffff00"/>
<circle cx="554.55" cy="73.34" r="1.55" fill="#ffff00"/>
<circle cx="557.44" cy="73.34" r="1.55" fill="#ffff00"/>
<circle cx="560.32" cy="73.34" r="1.55" fill="#ffff00"/>
<circle cx="563.21" cy="73.34" r="1.55" fill="#ffff00"/>
<circle cx="566.10" cy="73.34" r="1.55" fill="#ffff00"/>
<circle cx="568.98" cy="73.34" r="1.55" fill="#ffff00"/>
<circle cx="571.87" cy="73.34" r="1.55" fill="#ffff00"/>
<circle cx="574.75" cy="73.34" r="1.55" fill="#ffff00"/>
<circle cx="577.63" cy="73.34" r="1.55" fill="#ffff00"/>
<circle cx="580.52" cy="73.34" r="1.55" fill="#ffff00"/>
<circle cx="583.40" cy="73.34" r="1.55" fill="#ffff00"/>
<circle cx="534.36" cy="96.67" r="1.55" fill="#ffff00"/>
<circle cx="537.25" cy="96.67" r="1.55" fill="#ffff00"/>
<circle cx="540.13" cy="96.67" r="1.55" fill="#ffff00"/>
<circle cx="543.01" cy="96.67" r="1.55" fill="#ffff00"/>
<circle cx="545.90" cy="96.67" r="1.55" fill="#ffff00"/>
<circle cx="548.78" cy="96.67" r="1.55" fill="#ffff00"/>
<circle cx="551.67" cy="96.67" r="1.55" fill="#ffff00"/>
<circle cx="554.55" cy="96.67" r="1.55" fill="#ffff00"/>
<circle cx="557.44" cy="96.67" r="1.55" fill="#ffff00"/>
<circle cx="560.32" cy="96.67" r="1.55" fill="#ffff00"/>
<circle cx="563.21" cy="96.67" r="1.55" fill="#ffff00"/>
<circle cx="566.10" cy="96.67" r="1.55" fill="#ffff00"/>
<circle cx="568.98" cy="96.67" r="1.55" fill="#ffff00"/>
<circle cx="571.87" cy="96.67" r="1.55" fill="#ffff00"/>
<circle cx="574.75" cy="96.67" r="1.55" fill="#ffff00"/>
<circle cx="577.63" cy="96.67" r="1.55" fill="#ffff00"/>
<circle cx="580.52" cy="96.67" r="1.55" fill="#ffff00"/>
<circle cx="583.40" cy="96.67" r="1.55" fill="#ffff00"/>
<circle cx="586.29" cy="96.67" r="1.55" fill="#ffff00"/>
<circle cx="534.36" cy="120.01" r="1.55" fill="#ffff00"/>
<circle cx="537.25" cy="120.01" r="1.55" fill="#ffff00"/>
<circle cx="540.13" cy="120.01" r="1.55" fill="#ffff00"/>
<circle cx="543.01" cy="120.01" r="1.55" fill="#ffff00"/>
<circle cx="545.90" cy="120.01" r="1.55" fill="#ffff00"/>
<circle cx="548.78" cy="120.01" r="1.55" fill="#ffff00"/>
<circle cx="551.67" cy="120.01" r="1.55" fill="#ffff00"/>
<circle cx="554.55" cy="120.01" r="1.55" fill="#ffff00"/>
<circle cx="557.44" cy="120.01" r="1.55" fill="#ffff00"/>
<circle cx="560.32" cy="120.01" r="1.55" fill="#ffff00"/>
<circle cx="563.21" cy="120.01" r="1.55" fill="#ffff00"/>
<circle cx="566.10" cy="120.01" r="1.55" fill="#ffff00"/>
<circle cx="568.98" cy="120.01" r="1.55" fill="#ffff00"/>
<circle cx="571.87" cy="120.01" r="1.55" fill="#ffff00"/>
<circle cx="574.75" cy="120.01" r="1.55" fill="#ffff00"/>
<circle cx="577.63" cy="120.01" r="1.55" fill="#ffff00"/>
<circle cx="531.47" cy="143.34" r="1.55" fill="#ffff00"/>
<circle cx="537.25" cy="143.34" r="1.55" fill="#ffff00"/>
<circle cx="540.13" cy="143.34" r="1.55" fill="#ffff00"/>
<circle cx="543.01" cy="143.34" r="1.55" fill="#ffff00"/>
<circle cx="545.90" cy="143.34" r="1.55" fill="#ffff00"/>
<circle cx="548.78" cy="143.34" r="1.55" fill="#ffff00"/>
<circle cx="551.67" cy="143.34" r="1.55" fill="#ffff00"/>
<circle cx="554.55" cy="143.34" r="1.55" fill="#ffff00"/>
<circle cx="557.44" cy="143.34" r="1.55" fill="#ffff00"/>
<circle cx="560.32" cy="143.34" r="1.55" fill="#ffff00"/>
<circle cx="563.21" cy="143.34" r="1.55" fill="#ffff00"/>
<circle cx="566.10" cy="143.34" r="1.55" fill="#ffff00"/>
<circle cx="568.98" cy="143.34" r="1.55" fill="#ffff00"/>
<circle cx="571.87" cy="143.34" r="1.55" fill="#ffff00"/>
<circle cx="623.79" cy="143.34" r="1.55" fill="#ffff00"/>
<circle cx="534.36" cy="166.68" r="1.55" fill="#ffff00"/>
<circle cx="537.25" cy="166.68" r="1.55" fill="#ffff00"/>
<circle cx="540.13" cy="166.68" r="1.55" fill="#ffff00"/>
<circle cx="543.01" cy="166.68" r="1.55" fill="#ffff00"/>
<circle cx="545.90" cy="166.68" r="1.55" fill="#ffff00"/>
<circle cx="548.78" cy="166.68" r="1.55" fill="#ffff00"/>
<circle cx="551.67" cy="166.68" r="1.55" fill="#ffff00"/>
<circle cx="554.55" cy="166.68" r="1.55" fill="#ffff00"/>
<circle cx="557.44" cy="166.68" r="1.55" fill="#ffff00"/>
<circle cx="563.21" cy="166.68" r="1.55" fill="#ffff00"/>
<circle cx="566.10" cy="166.68" r="1.55" fill="#ffff00"/>
<circle cx="618.02" cy="166.68" r="1.55" fill="#ffff00"/>
<circle cx="534.36" cy="190.01" r="1.55" fill="#ffff00"/>
<circle cx="537.25" cy="190.01" r="1.55" fill="#ffff00"/>
<circle cx="540.13" cy="190.01" r="1.55" fill="#ffff00"/>
<circle cx="543.01" cy="190.01" r="1.55" fill="#ffff00"/>
<circle cx="545.90" cy="190.01" r="1.55" fill="#ffff00"/>
<circle cx="548.78" cy="190.01" r="1.55" fill="#ffff00"/>
<circle cx="551.67" cy="190.01" r="1.55" fill="#ffff00"/>
<circle cx="554.55" cy="190.01" r="1.55" fill="#ffff00"/>
<circle cx="537.25" cy="213.35" r="1.55" fill="#ffff00"/>
<circle cx="540.13" cy="213.35" r="1.55" fill="#ffff00"/>
<circle cx="543.01" cy="213.35" r="1.55" fill="#ffff00"/>
<circle cx="545.90" cy="213.35" r="1.55" fill="#ffff00"/>
<circle cx="612.25" cy="236.68" r="1.55" fill="#ffff00"/>
<circle cx="615.14" cy="236.68" r="1.55" fill="#ffff00"/>
<circle cx="618.02" cy="236.68" r="1.55" fill="#ffff00"/>
<circle cx="620.91" cy="236.68" r="1.55" fill="#ffff00"/>
<circle cx="623.79" cy="236.68" r="1.55" fill="#ffff00"/>
<circle cx="626.68" cy="236.68" r="1.55" fill="#ffff00"/>
<path d="M657.25 28.00L664.50 17.80L671.75 28.00Z" fill="#9a1421"/>
<rect x="657.25" y="28.00" width="14.50" height="11.13" fill="#b11d28"/>
<rect x="657.25" y="38.33" width="14.50" height="11.13" fill="#d8262b"/>
<rect x="657.25" y="48.66" width="14.50" height="11.13" fill="#e9552a"/>
<rect x="657.25" y="58.99" width="14.50" height="11.13" fill="#f57f25"/>
<rect x="657.25" y="69.32" width="14.50" height="11.13" fill="#f99a2e"/>
<rect x="657.25" y="79.65" width="14.50" height="11.13" fill="#fcb646"/>
<rect x="657.25" y="89.98" width="14.50" height="11.13" fill="#fed97f"/>
<rect x="657.25" y="100.31" width="14.50" height="11.13" fill="#fdeeb0"/>
<rect x="657.25" y="110.64" width="14.50" height="11.13" fill="#fff9e3"/>
<rect x="657.25" y="120.97" width="14.50" height="11.13" fill="#ffffff"/>
<rect x="657.25" y="131.30" width="14.50" height="11.13" fill="#ffffff"/>
<rect x="657.25" y="141.63" width="14.50" height="11.13" fill="#eff8fc"/>
<rect x="657.25" y="151.96" width="14.50" height="11.13" fill="#dff0f9"/>
<rect x="657.25" y="162.29" width="14.50" height="11.13" fill="#c2e5f6"/>
<rect x="657.25" y="172.62" width="14.50" height="11.13" fill="#a4daf4"/>
<rect x="657.25" y="182.95" width="14.50" height="11.13" fill="#80c0e7"/>
<rect x="657.25" y="193.28" width="14.50" height="11.13" fill="#5ea7da"/>
<rect x="657.25" y="203.61" width="14.50" height="11.13" fill="#3f81c5"/>
<rect x="657.25" y="213.94" width="14.50" height="11.13" fill="#2a5cb0"/>
<rect x="657.25" y="224.27" width="14.50" height="10.33" fill="#213f8e"/>
<path d="M657.25 234.60L664.50 246.00L671.75 234.60Z" fill="#1c2d6e"/>
<path d="M657.25 28.00H671.75M657.25 38.33H671.75M657.25 48.66H671.75M657.25 58.99H671.75M657.25 69.32H671.75M657.25 79.65H671.75M657.25 89.98H671.75M657.25 100.31H671.75M657.25 110.64H671.75M657.25 120.97H671.75M657.25 131.30H671.75M657.25 141.63H671.75M657.25 151.96H671.75M657.25 162.29H671.75M657.25 172.62H671.75M657.25 182.95H671.75M657.25 193.28H671.75M657.25 203.61H671.75M657.25 213.94H671.75M657.25 224.27H671.75M657.25 234.60H671.75" fill="none" stroke="#000" stroke-opacity="0.13" stroke-width="0.7"/>
<path d="M657.25 28.00L664.50 17.80L671.75 28.00V234.60L664.50 246.00L657.25 234.60Z" fill="none" stroke="#000" stroke-opacity="0.2" stroke-width="0.7"/>
<text x="677.35" y="31.70" class="cb">5</text>
<text x="677.35" y="52.36" class="cb">4</text>
<text x="677.35" y="73.02" class="cb">3</text>
<text x="677.35" y="93.68" class="cb">2</text>
<text x="677.35" y="114.34" class="cb">1</text>
<text x="677.35" y="135.00" class="cb">0</text>
<text x="676.15" y="155.66" class="cb">-1</text>
<text x="676.15" y="176.32" class="cb">-2</text>
<text x="676.15" y="196.98" class="cb">-3</text>
<text x="676.15" y="217.64" class="cb">-4</text>
<text x="676.15" y="238.30" class="cb">-5</text>
<text x="400.25" y="10.70" class="tt">CTL - NoAraon</text>
<text x="634.15" y="8.50" class="tt" text-anchor="end">Geopotential height</text>
<text x="403.85" y="30.90" class="pl">(b)</text>
<text x="390.55" y="30.12" class="tk" text-anchor="end">100</text>
<text x="390.55" y="53.45" class="tk" text-anchor="end">200</text>
<text x="390.55" y="76.79" class="tk" text-anchor="end">300</text>
<text x="390.55" y="100.12" class="tk" text-anchor="end">400</text>
<text x="390.55" y="123.46" class="tk" text-anchor="end">500</text>
<text x="390.55" y="146.79" class="tk" text-anchor="end">600</text>
<text x="390.55" y="170.13" class="tk" text-anchor="end">700</text>
<text x="390.55" y="193.46" class="tk" text-anchor="end">800</text>
<text x="390.55" y="216.80" class="tk" text-anchor="end">900</text>
<text x="390.55" y="240.13" class="tk" text-anchor="end">1000</text>
<text x="401.65" y="267.20" class="tk" text-anchor="middle">0</text>
<text x="424.73" y="267.20" class="tk" text-anchor="middle">24</text>
<text x="447.81" y="267.20" class="tk" text-anchor="middle">48</text>
<text x="470.89" y="267.20" class="tk" text-anchor="middle">72</text>
<text x="493.97" y="267.20" class="tk" text-anchor="middle">96</text>
<text x="517.05" y="267.20" class="tk" text-anchor="middle">120</text>
<text x="540.13" y="267.20" class="tk" text-anchor="middle">144</text>
<text x="563.21" y="267.20" class="tk" text-anchor="middle">168</text>
<text x="586.29" y="267.20" class="tk" text-anchor="middle">192</text>
<text x="609.37" y="267.20" class="tk" text-anchor="middle">216</text>
<text x="632.45" y="267.20" class="tk" text-anchor="middle">240</text>
<text x="517.45" y="285.00" class="ax" text-anchor="middle">Forecast length (h)</text>
<text transform="translate(356.45,131.40) rotate(-90)" class="ax" text-anchor="middle">Pressure level (hPa)</text>
<clipPath id="cpc"><rect x="54.50" y="310.50" width="233.10" height="232.80"/></clipPath>
<g clip-path="url(#cpc)">
<rect x="53.96" y="310.50" width="12.54" height="24.28" fill="#eff8fc"/>
<rect x="65.50" y="310.50" width="6.77" height="24.28" fill="#ffffff"/>
<rect x="71.27" y="310.50" width="6.77" height="24.28" fill="#eff8fc"/>
<rect x="77.04" y="310.50" width="6.77" height="24.28" fill="#ffffff"/>
<rect x="82.81" y="310.50" width="3.88" height="24.28" fill="#eff8fc"/>
<rect x="85.69" y="310.50" width="9.66" height="24.28" fill="#ffffff"/>
<rect x="94.35" y="310.50" width="3.88" height="24.28" fill="#eff8fc"/>
<rect x="97.23" y="310.50" width="9.66" height="24.28" fill="#ffffff"/>
<rect x="105.89" y="310.50" width="3.89" height="24.28" fill="#eff8fc"/>
<rect x="108.77" y="310.50" width="26.96" height="24.28" fill="#ffffff"/>
<rect x="134.74" y="310.50" width="21.20" height="24.28" fill="#eff8fc"/>
<rect x="154.93" y="310.50" width="12.54" height="24.28" fill="#dff0f9"/>
<rect x="166.47" y="310.50" width="12.54" height="24.28" fill="#c2e5f6"/>
<rect x="178.01" y="310.50" width="9.66" height="24.28" fill="#a4daf4"/>
<rect x="186.67" y="310.50" width="6.77" height="24.28" fill="#80c0e7"/>
<rect x="192.44" y="310.50" width="6.77" height="24.28" fill="#a4daf4"/>
<rect x="198.21" y="310.50" width="3.89" height="24.28" fill="#80c0e7"/>
<rect x="201.09" y="310.50" width="3.88" height="24.28" fill="#a4daf4"/>
<rect x="203.98" y="310.50" width="3.88" height="24.28" fill="#c2e5f6"/>
<rect x="206.86" y="310.50" width="3.89" height="24.28" fill="#a4daf4"/>
<rect x="209.75" y="310.50" width="3.88" height="24.28" fill="#80c0e7"/>
<rect x="212.63" y="310.50" width="3.88" height="24.28" fill="#a4daf4"/>
<rect x="215.52" y="310.50" width="3.89" height="24.28" fill="#c2e5f6"/>
<rect x="218.40" y="310.50" width="3.88" height="24.28" fill="#a4daf4"/>
<rect x="221.29" y="310.50" width="3.88" height="24.28" fill="#80c0e7"/>
<rect x="224.17" y="310.50" width="3.89" height="24.28" fill="#a4daf4"/>
<rect x="227.06" y="310.50" width="3.88" height="24.28" fill="#c2e5f6"/>
<rect x="229.94" y="310.50" width="6.77" height="24.28" fill="#a4daf4"/>
<rect x="235.71" y="310.50" width="15.42" height="24.28" fill="#c2e5f6"/>
<rect x="250.14" y="310.50" width="3.88" height="24.28" fill="#dff0f9"/>
<rect x="253.02" y="310.50" width="3.89" height="24.28" fill="#c2e5f6"/>
<rect x="255.91" y="310.50" width="3.88" height="24.28" fill="#a4daf4"/>
<rect x="258.79" y="310.50" width="3.88" height="24.28" fill="#80c0e7"/>
<rect x="261.68" y="310.50" width="3.89" height="24.28" fill="#a4daf4"/>
<rect x="264.56" y="310.50" width="6.77" height="24.28" fill="#80c0e7"/>
<rect x="270.33" y="310.50" width="3.88" height="24.28" fill="#5ea7da"/>
<rect x="273.22" y="310.50" width="3.88" height="24.28" fill="#80c0e7"/>
<rect x="276.10" y="310.50" width="11.54" height="24.28" fill="#5ea7da"/>
<rect x="53.96" y="333.78" width="3.89" height="24.28" fill="#eff8fc"/>
<rect x="56.84" y="333.78" width="3.88" height="24.28" fill="#ffffff"/>
<rect x="59.73" y="333.78" width="6.77" height="24.28" fill="#eff8fc"/>
<rect x="65.50" y="333.78" width="6.77" height="24.28" fill="#ffffff"/>
<rect x="71.27" y="333.78" width="15.42" height="24.28" fill="#eff8fc"/>
<rect x="85.69" y="333.78" width="6.77" height="24.28" fill="#ffffff"/>
<rect x="91.46" y="333.78" width="3.88" height="24.28" fill="#eff8fc"/>
<rect x="94.35" y="333.78" width="6.77" height="24.28" fill="#ffffff"/>
<rect x="100.12" y="333.78" width="9.66" height="24.28" fill="#eff8fc"/>
<rect x="108.77" y="333.78" width="32.73" height="24.28" fill="#ffffff"/>
<rect x="140.51" y="333.78" width="15.43" height="24.28" fill="#eff8fc"/>
<rect x="154.93" y="333.78" width="12.54" height="24.28" fill="#ffffff"/>
<rect x="166.47" y="333.78" width="9.66" height="24.28" fill="#eff8fc"/>
<rect x="175.13" y="333.78" width="3.88" height="24.28" fill="#dff0f9"/>
<rect x="178.01" y="333.78" width="9.66" height="24.28" fill="#c2e5f6"/>
<rect x="186.67" y="333.78" width="24.08" height="24.28" fill="#a4daf4"/>
<rect x="209.75" y="333.78" width="6.77" height="24.28" fill="#80c0e7"/>
<rect x="215.52" y="333.78" width="9.66" height="24.28" fill="#a4daf4"/>
<rect x="224.17" y="333.78" width="6.77" height="24.28" fill="#c2e5f6"/>
<rect x="229.94" y="333.78" width="9.66" height="24.28" fill="#a4daf4"/>
<rect x="238.60" y="333.78" width="15.42" height="24.28" fill="#80c0e7"/>
<rect x="253.02" y="333.78" width="3.89" height="24.28" fill="#a4daf4"/>
<rect x="255.91" y="333.78" width="24.08" height="24.28" fill="#80c0e7"/>
<rect x="278.99" y="333.78" width="8.66" height="24.28" fill="#5ea7da"/>
<rect x="53.96" y="357.06" width="18.31" height="24.28" fill="#eff8fc"/>
<rect x="71.27" y="357.06" width="24.08" height="24.28" fill="#dff0f9"/>
<rect x="94.35" y="357.06" width="12.54" height="24.28" fill="#eff8fc"/>
<rect x="105.89" y="357.06" width="67.35" height="24.28" fill="#ffffff"/>
<rect x="172.24" y="357.06" width="9.66" height="24.28" fill="#eff8fc"/>
<rect x="180.90" y="357.06" width="3.89" height="24.28" fill="#dff0f9"/>
<rect x="183.78" y="357.06" width="6.77" height="24.28" fill="#eff8fc"/>
<rect x="189.55" y="357.06" width="12.54" height="24.28" fill="#dff0f9"/>
<rect x="201.09" y="357.06" width="21.19" height="24.28" fill="#c2e5f6"/>
<rect x="221.29" y="357.06" width="15.43" height="24.28" fill="#dff0f9"/>
<rect x="235.71" y="357.06" width="6.77" height="24.28" fill="#c2e5f6"/>
<rect x="241.48" y="357.06" width="12.54" height="24.28" fill="#a4daf4"/>
<rect x="253.02" y="357.06" width="15.43" height="24.28" fill="#c2e5f6"/>
<rect x="267.45" y="357.06" width="9.65" height="24.28" fill="#dff0f9"/>
<rect x="276.10" y="357.06" width="11.54" height="24.28" fill="#c2e5f6"/>
<rect x="53.96" y="380.34" width="18.31" height="24.28" fill="#eff8fc"/>
<rect x="71.27" y="380.34" width="24.08" height="24.28" fill="#dff0f9"/>
<rect x="94.35" y="380.34" width="15.42" height="24.28" fill="#eff8fc"/>
<rect x="108.77" y="380.34" width="58.70" height="24.28" fill="#ffffff"/>
<rect x="166.47" y="380.34" width="26.97" height="24.28" fill="#eff8fc"/>
<rect x="192.44" y="380.34" width="6.77" height="24.28" fill="#dff0f9"/>
<rect x="198.21" y="380.34" width="6.77" height="24.28" fill="#c2e5f6"/>
<rect x="203.98" y="380.34" width="6.77" height="24.28" fill="#a4daf4"/>
<rect x="209.75" y="380.34" width="12.54" height="24.28" fill="#c2e5f6"/>
<rect x="221.29" y="380.34" width="12.54" height="24.28" fill="#dff0f9"/>
<rect x="232.83" y="380.34" width="9.66" height="24.28" fill="#c2e5f6"/>
<rect x="241.48" y="380.34" width="6.77" height="24.28" fill="#a4daf4"/>
<rect x="247.25" y="380.34" width="26.96" height="24.28" fill="#c2e5f6"/>
<rect x="273.22" y="380.34" width="3.88" height="24.28" fill="#dff0f9"/>
<rect x="276.10" y="380.34" width="11.54" height="24.28" fill="#c2e5f6"/>
<rect x="53.96" y="403.62" width="6.77" height="24.28" fill="#eff8fc"/>
<rect x="59.73" y="403.62" width="6.77" height="24.28" fill="#dff0f9"/>
<rect x="65.50" y="403.62" width="9.66" height="24.28" fill="#eff8fc"/>
<rect x="74.15" y="403.62" width="15.42" height="24.28" fill="#dff0f9"/>
<rect x="88.58" y="403.62" width="29.85" height="24.28" fill="#eff8fc"/>
<rect x="117.43" y="403.62" width="29.85" height="24.28" fill="#ffffff"/>
<rect x="146.28" y="403.62" width="9.66" height="24.28" fill="#eff8fc"/>
<rect x="154.93" y="403.62" width="6.77" height="24.28" fill="#ffffff"/>
<rect x="160.70" y="403.62" width="9.66" height="24.28" fill="#eff8fc"/>
<rect x="169.36" y="403.62" width="6.77" height="24.28" fill="#dff0f9"/>
<rect x="175.13" y="403.62" width="12.54" height="24.28" fill="#eff8fc"/>
<rect x="186.67" y="403.62" width="6.77" height="24.28" fill="#dff0f9"/>
<rect x="192.44" y="403.62" width="6.77" height="24.28" fill="#c2e5f6"/>
<rect x="198.21" y="403.62" width="15.43" height="24.28" fill="#a4daf4"/>
<rect x="212.63" y="403.62" width="9.66" height="24.28" fill="#c2e5f6"/>
<rect x="221.29" y="403.62" width="9.66" height="24.28" fill="#dff0f9"/>
<rect x="229.94" y="403.62" width="6.77" height="24.28" fill="#c2e5f6"/>
<rect x="235.71" y="403.62" width="3.88" height="24.28" fill="#a4daf4"/>
<rect x="238.60" y="403.62" width="3.88" height="24.28" fill="#c2e5f6"/>
<rect x="241.48" y="403.62" width="3.88" height="24.28" fill="#a4daf4"/>
<rect x="244.37" y="403.62" width="35.62" height="24.28" fill="#c2e5f6"/>
<rect x="278.99" y="403.62" width="8.66" height="24.28" fill="#a4daf4"/>
<rect x="53.96" y="426.90" width="12.54" height="24.28" fill="#eff8fc"/>
<rect x="65.50" y="426.90" width="3.88" height="24.28" fill="#ffffff"/>
<rect x="68.38" y="426.90" width="35.62" height="24.28" fill="#eff8fc"/>
<rect x="103.00" y="426.90" width="3.88" height="24.28" fill="#ffffff"/>
<rect x="105.89" y="426.90" width="6.77" height="24.28" fill="#eff8fc"/>
<rect x="111.66" y="426.90" width="32.73" height="24.28" fill="#ffffff"/>
<rect x="143.39" y="426.90" width="21.19" height="24.28" fill="#eff8fc"/>
<rect x="163.59" y="426.90" width="21.20" height="24.28" fill="#dff0f9"/>
<rect x="183.78" y="426.90" width="6.77" height="24.28" fill="#c2e5f6"/>
<rect x="189.55" y="426.90" width="6.77" height="24.28" fill="#a4daf4"/>
<rect x="195.32" y="426.90" width="9.66" height="24.28" fill="#80c0e7"/>
<rect x="203.98" y="426.90" width="12.54" height="24.28" fill="#a4daf4"/>
<rect x="215.52" y="426.90" width="6.77" height="24.28" fill="#c2e5f6"/>
<rect x="221.29" y="426.90" width="9.66" height="24.28" fill="#dff0f9"/>
<rect x="229.94" y="426.90" width="3.88" height="24.28" fill="#c2e5f6"/>
<rect x="232.83" y="426.90" width="12.54" height="24.28" fill="#a4daf4"/>
<rect x="244.37" y="426.90" width="32.73" height="24.28" fill="#c2e5f6"/>
<rect x="276.10" y="426.90" width="11.54" height="24.28" fill="#a4daf4"/>
<rect x="53.96" y="450.18" width="47.16" height="24.28" fill="#eff8fc"/>
<rect x="100.12" y="450.18" width="12.54" height="24.28" fill="#ffffff"/>
<rect x="111.66" y="450.18" width="3.88" height="24.28" fill="#eff8fc"/>
<rect x="114.54" y="450.18" width="29.85" height="24.28" fill="#ffffff"/>
<rect x="143.39" y="450.18" width="9.66" height="24.28" fill="#eff8fc"/>
<rect x="152.05" y="450.18" width="6.77" height="24.28" fill="#dff0f9"/>
<rect x="157.82" y="450.18" width="12.54" height="24.28" fill="#eff8fc"/>
<rect x="169.36" y="450.18" width="6.77" height="24.28" fill="#c2e5f6"/>
<rect x="175.13" y="450.18" width="3.88" height="24.28" fill="#dff0f9"/>
<rect x="178.01" y="450.18" width="9.66" height="24.28" fill="#c2e5f6"/>
<rect x="186.67" y="450.18" width="3.89" height="24.28" fill="#a4daf4"/>
<rect x="189.55" y="450.18" width="15.42" height="24.28" fill="#80c0e7"/>
<rect x="203.98" y="450.18" width="12.54" height="24.28" fill="#a4daf4"/>
<rect x="215.52" y="450.18" width="18.31" height="24.28" fill="#c2e5f6"/>
<rect x="232.83" y="450.18" width="12.54" height="24.28" fill="#a4daf4"/>
<rect x="244.37" y="450.18" width="32.73" height="24.28" fill="#c2e5f6"/>
<rect x="276.10" y="450.18" width="3.88" height="24.28" fill="#a4daf4"/>
<rect x="278.99" y="450.18" width="8.66" height="24.28" fill="#c2e5f6"/>
<rect x="53.96" y="473.46" width="47.16" height="24.28" fill="#eff8fc"/>
<rect x="100.12" y="473.46" width="24.08" height="24.28" fill="#ffffff"/>
<rect x="123.20" y="473.46" width="9.66" height="24.28" fill="#fff9e3"/>
<rect x="131.85" y="473.46" width="18.31" height="24.28" fill="#ffffff"/>
<rect x="149.16" y="473.46" width="15.42" height="24.28" fill="#eff8fc"/>
<rect x="163.59" y="473.46" width="12.54" height="24.28" fill="#dff0f9"/>
<rect x="175.13" y="473.46" width="9.66" height="24.28" fill="#c2e5f6"/>
<rect x="183.78" y="473.46" width="6.77" height="24.28" fill="#a4daf4"/>
<rect x="189.55" y="473.46" width="12.54" height="24.28" fill="#80c0e7"/>
<rect x="201.09" y="473.46" width="15.42" height="24.28" fill="#a4daf4"/>
<rect x="215.52" y="473.46" width="12.54" height="24.28" fill="#c2e5f6"/>
<rect x="227.06" y="473.46" width="12.54" height="24.28" fill="#a4daf4"/>
<rect x="238.60" y="473.46" width="3.88" height="24.28" fill="#80c0e7"/>
<rect x="241.48" y="473.46" width="3.88" height="24.28" fill="#a4daf4"/>
<rect x="244.37" y="473.46" width="6.77" height="24.28" fill="#c2e5f6"/>
<rect x="250.14" y="473.46" width="3.88" height="24.28" fill="#dff0f9"/>
<rect x="253.02" y="473.46" width="3.89" height="24.28" fill="#c2e5f6"/>
<rect x="255.91" y="473.46" width="6.77" height="24.28" fill="#dff0f9"/>
<rect x="261.68" y="473.46" width="18.31" height="24.28" fill="#c2e5f6"/>
<rect x="278.99" y="473.46" width="8.66" height="24.28" fill="#dff0f9"/>
<rect x="53.96" y="496.74" width="18.31" height="24.28" fill="#eff8fc"/>
<rect x="71.27" y="496.74" width="3.89" height="24.28" fill="#ffffff"/>
<rect x="74.15" y="496.74" width="26.96" height="24.28" fill="#eff8fc"/>
<rect x="100.12" y="496.74" width="18.31" height="24.28" fill="#ffffff"/>
<rect x="117.43" y="496.74" width="21.20" height="24.28" fill="#fff9e3"/>
<rect x="137.62" y="496.74" width="15.42" height="24.28" fill="#ffffff"/>
<rect x="152.05" y="496.74" width="15.43" height="24.28" fill="#eff8fc"/>
<rect x="166.47" y="496.74" width="12.54" height="24.28" fill="#dff0f9"/>
<rect x="178.01" y="496.74" width="9.66" height="24.28" fill="#c2e5f6"/>
<rect x="186.67" y="496.74" width="21.19" height="24.28" fill="#a4daf4"/>
<rect x="206.86" y="496.74" width="6.77" height="24.28" fill="#c2e5f6"/>
<rect x="212.63" y="496.74" width="21.19" height="24.28" fill="#a4daf4"/>
<rect x="232.83" y="496.74" width="9.66" height="24.28" fill="#80c0e7"/>
<rect x="241.48" y="496.74" width="3.88" height="24.28" fill="#a4daf4"/>
<rect x="244.37" y="496.74" width="9.66" height="24.28" fill="#c2e5f6"/>
<rect x="253.02" y="496.74" width="9.65" height="24.28" fill="#dff0f9"/>
<rect x="261.68" y="496.74" width="18.31" height="24.28" fill="#c2e5f6"/>
<rect x="278.99" y="496.74" width="8.66" height="24.28" fill="#dff0f9"/>
<rect x="53.96" y="520.02" width="9.66" height="23.28" fill="#eff8fc"/>
<rect x="62.61" y="520.02" width="3.89" height="23.28" fill="#ffffff"/>
<rect x="65.50" y="520.02" width="12.54" height="23.28" fill="#eff8fc"/>
<rect x="77.04" y="520.02" width="3.89" height="23.28" fill="#ffffff"/>
<rect x="79.92" y="520.02" width="6.77" height="23.28" fill="#eff8fc"/>
<rect x="85.69" y="520.02" width="21.19" height="23.28" fill="#ffffff"/>
<rect x="105.89" y="520.02" width="9.66" height="23.28" fill="#fff9e3"/>
<rect x="114.54" y="520.02" width="21.19" height="23.28" fill="#fdeeb0"/>
<rect x="134.74" y="520.02" width="3.89" height="23.28" fill="#fff9e3"/>
<rect x="137.62" y="520.02" width="9.66" height="23.28" fill="#ffffff"/>
<rect x="146.28" y="520.02" width="12.54" height="23.28" fill="#eff8fc"/>
<rect x="157.82" y="520.02" width="26.97" height="23.28" fill="#c2e5f6"/>
<rect x="183.78" y="520.02" width="6.77" height="23.28" fill="#a4daf4"/>
<rect x="189.55" y="520.02" width="41.39" height="23.28" fill="#80c0e7"/>
<rect x="229.94" y="520.02" width="29.85" height="23.28" fill="#a4daf4"/>
<rect x="258.79" y="520.02" width="6.77" height="23.28" fill="#c2e5f6"/>
<rect x="264.56" y="520.02" width="9.65" height="23.28" fill="#a4daf4"/>
<rect x="273.22" y="520.02" width="3.88" height="23.28" fill="#80c0e7"/>
<rect x="276.10" y="520.02" width="6.77" height="23.28" fill="#a4daf4"/>
<rect x="281.87" y="520.02" width="5.77" height="23.28" fill="#c2e5f6"/>
</g>
<rect x="54.50" y="310.50" width="233.00" height="233.00" fill="none" stroke="#b4b4b4" stroke-width="1"/>
<path d="M55.40 543.50v-6.5M55.40 310.50v6M78.48 543.50v-6.5M78.48 310.50v6M101.56 543.50v-6.5M101.56 310.50v6M124.64 543.50v-6.5M124.64 310.50v6M147.72 543.50v-6.5M147.72 310.50v6M170.80 543.50v-6.5M170.80 310.50v6M193.88 543.50v-6.5M193.88 310.50v6M216.96 543.50v-6.5M216.96 310.50v6M240.04 543.50v-6.5M240.04 310.50v6M263.12 543.50v-6.5M263.12 310.50v6M286.20 543.50v-6.5M286.20 310.50v6" stroke="#000" stroke-opacity="0.18" stroke-width="1" fill="none"/>
<path d="M54.50 322.14h6.5M287.50 322.14h-6.5M54.50 345.42h6.5M287.50 345.42h-6.5M54.50 368.70h6.5M287.50 368.70h-6.5M54.50 391.98h6.5M287.50 391.98h-6.5M54.50 415.26h6.5M287.50 415.26h-6.5M54.50 438.54h6.5M287.50 438.54h-6.5M54.50 461.82h6.5M287.50 461.82h-6.5M54.50 485.10h6.5M287.50 485.10h-6.5M54.50 508.38h6.5M287.50 508.38h-6.5M54.50 531.66h6.5M287.50 531.66h-6.5" stroke="#000" stroke-opacity="0.3" stroke-width="0.9" fill="none"/>
<path d="M311.00 323.10L318.25 312.90L325.50 323.10Z" fill="#9a1421"/>
<rect x="311.00" y="323.10" width="14.50" height="11.13" fill="#b11d28"/>
<rect x="311.00" y="333.43" width="14.50" height="11.13" fill="#d8262b"/>
<rect x="311.00" y="343.76" width="14.50" height="11.13" fill="#e9552a"/>
<rect x="311.00" y="354.09" width="14.50" height="11.13" fill="#f57f25"/>
<rect x="311.00" y="364.42" width="14.50" height="11.13" fill="#f99a2e"/>
<rect x="311.00" y="374.75" width="14.50" height="11.13" fill="#fcb646"/>
<rect x="311.00" y="385.08" width="14.50" height="11.13" fill="#fed97f"/>
<rect x="311.00" y="395.41" width="14.50" height="11.13" fill="#fdeeb0"/>
<rect x="311.00" y="405.74" width="14.50" height="11.13" fill="#fff9e3"/>
<rect x="311.00" y="416.07" width="14.50" height="11.13" fill="#ffffff"/>
<rect x="311.00" y="426.40" width="14.50" height="11.13" fill="#ffffff"/>
<rect x="311.00" y="436.73" width="14.50" height="11.13" fill="#eff8fc"/>
<rect x="311.00" y="447.06" width="14.50" height="11.13" fill="#dff0f9"/>
<rect x="311.00" y="457.39" width="14.50" height="11.13" fill="#c2e5f6"/>
<rect x="311.00" y="467.72" width="14.50" height="11.13" fill="#a4daf4"/>
<rect x="311.00" y="478.05" width="14.50" height="11.13" fill="#80c0e7"/>
<rect x="311.00" y="488.38" width="14.50" height="11.13" fill="#5ea7da"/>
<rect x="311.00" y="498.71" width="14.50" height="11.13" fill="#3f81c5"/>
<rect x="311.00" y="509.04" width="14.50" height="11.13" fill="#2a5cb0"/>
<rect x="311.00" y="519.37" width="14.50" height="10.33" fill="#213f8e"/>
<path d="M311.00 529.70L318.25 541.10L325.50 529.70Z" fill="#1c2d6e"/>
<path d="M311.00 323.10H325.50M311.00 333.43H325.50M311.00 343.76H325.50M311.00 354.09H325.50M311.00 364.42H325.50M311.00 374.75H325.50M311.00 385.08H325.50M311.00 395.41H325.50M311.00 405.74H325.50M311.00 416.07H325.50M311.00 426.40H325.50M311.00 436.73H325.50M311.00 447.06H325.50M311.00 457.39H325.50M311.00 467.72H325.50M311.00 478.05H325.50M311.00 488.38H325.50M311.00 498.71H325.50M311.00 509.04H325.50M311.00 519.37H325.50M311.00 529.70H325.50" fill="none" stroke="#000" stroke-opacity="0.13" stroke-width="0.7"/>
<path d="M311.00 323.10L318.25 312.90L325.50 323.10V529.70L318.25 541.10L311.00 529.70Z" fill="none" stroke="#000" stroke-opacity="0.2" stroke-width="0.7"/>
<text x="331.10" y="326.80" class="cb">5</text>
<text x="331.10" y="347.46" class="cb">4</text>
<text x="331.10" y="368.12" class="cb">3</text>
<text x="331.10" y="388.78" class="cb">2</text>
<text x="331.10" y="409.44" class="cb">1</text>
<text x="331.10" y="430.10" class="cb">0</text>
<text x="329.90" y="450.76" class="cb">-1</text>
<text x="329.90" y="471.42" class="cb">-2</text>
<text x="329.90" y="492.08" class="cb">-3</text>
<text x="329.90" y="512.74" class="cb">-4</text>
<text x="329.90" y="533.40" class="cb">-5</text>
<text x="54.00" y="305.70" class="tt">CTL - NoAraon</text>
<text x="287.90" y="305.60" class="tt" text-anchor="end">Zonal wind</text>
<text x="57.60" y="326.70" class="pl">(c)</text>
<text x="44.30" y="325.74" class="tk" text-anchor="end">100</text>
<text x="44.30" y="349.02" class="tk" text-anchor="end">200</text>
<text x="44.30" y="372.30" class="tk" text-anchor="end">300</text>
<text x="44.30" y="395.58" class="tk" text-anchor="end">400</text>
<text x="44.30" y="418.86" class="tk" text-anchor="end">500</text>
<text x="44.30" y="442.14" class="tk" text-anchor="end">600</text>
<text x="44.30" y="465.42" class="tk" text-anchor="end">700</text>
<text x="44.30" y="488.70" class="tk" text-anchor="end">800</text>
<text x="44.30" y="511.98" class="tk" text-anchor="end">900</text>
<text x="44.30" y="535.26" class="tk" text-anchor="end">1000</text>
<text x="55.40" y="562.30" class="tk" text-anchor="middle">0</text>
<text x="78.48" y="562.30" class="tk" text-anchor="middle">24</text>
<text x="101.56" y="562.30" class="tk" text-anchor="middle">48</text>
<text x="124.64" y="562.30" class="tk" text-anchor="middle">72</text>
<text x="147.72" y="562.30" class="tk" text-anchor="middle">96</text>
<text x="170.80" y="562.30" class="tk" text-anchor="middle">120</text>
<text x="193.88" y="562.30" class="tk" text-anchor="middle">144</text>
<text x="216.96" y="562.30" class="tk" text-anchor="middle">168</text>
<text x="240.04" y="562.30" class="tk" text-anchor="middle">192</text>
<text x="263.12" y="562.30" class="tk" text-anchor="middle">216</text>
<text x="286.20" y="562.30" class="tk" text-anchor="middle">240</text>
<text x="171.20" y="580.10" class="ax" text-anchor="middle">Forecast length (h)</text>
<text transform="translate(10.20,426.50) rotate(-90)" class="ax" text-anchor="middle">Pressure level (hPa)</text>
<clipPath id="cpd"><rect x="400.75" y="310.50" width="233.10" height="232.80"/></clipPath>
<g clip-path="url(#cpd)">
<rect x="400.21" y="310.50" width="9.65" height="24.28" fill="#eff8fc"/>
<rect x="408.86" y="310.50" width="3.89" height="24.28" fill="#ffffff"/>
<rect x="411.75" y="310.50" width="12.54" height="24.28" fill="#eff8fc"/>
<rect x="423.29" y="310.50" width="3.88" height="24.28" fill="#ffffff"/>
<rect x="426.17" y="310.50" width="21.19" height="24.28" fill="#eff8fc"/>
<rect x="446.37" y="310.50" width="12.54" height="24.28" fill="#ffffff"/>
<rect x="457.91" y="310.50" width="3.88" height="24.28" fill="#eff8fc"/>
<rect x="460.79" y="310.50" width="6.77" height="24.28" fill="#ffffff"/>
<rect x="466.56" y="310.50" width="3.88" height="24.28" fill="#eff8fc"/>
<rect x="469.45" y="310.50" width="12.54" height="24.28" fill="#ffffff"/>
<rect x="480.99" y="310.50" width="3.88" height="24.28" fill="#eff8fc"/>
<rect x="483.87" y="310.50" width="6.77" height="24.28" fill="#ffffff"/>
<rect x="489.64" y="310.50" width="12.54" height="24.28" fill="#eff8fc"/>
<rect x="501.18" y="310.50" width="12.54" height="24.28" fill="#dff0f9"/>
<rect x="512.72" y="310.50" width="6.77" height="24.28" fill="#c2e5f6"/>
<rect x="518.49" y="310.50" width="3.88" height="24.28" fill="#a4daf4"/>
<rect x="521.38" y="310.50" width="3.88" height="24.28" fill="#80c0e7"/>
<rect x="524.26" y="310.50" width="3.88" height="24.28" fill="#5ea7da"/>
<rect x="527.15" y="310.50" width="6.77" height="24.28" fill="#3f81c5"/>
<rect x="532.92" y="310.50" width="3.88" height="24.28" fill="#2a5cb0"/>
<rect x="535.80" y="310.50" width="6.77" height="24.28" fill="#1c2d6e"/>
<rect x="541.57" y="310.50" width="6.77" height="24.28" fill="#213f8e"/>
<rect x="547.34" y="310.50" width="6.77" height="24.28" fill="#1c2d6e"/>
<rect x="553.11" y="310.50" width="3.88" height="24.28" fill="#213f8e"/>
<rect x="556.00" y="310.50" width="18.31" height="24.28" fill="#1c2d6e"/>
<rect x="573.31" y="310.50" width="6.77" height="24.28" fill="#213f8e"/>
<rect x="579.08" y="310.50" width="3.88" height="24.28" fill="#2a5cb0"/>
<rect x="581.96" y="310.50" width="3.88" height="24.28" fill="#5ea7da"/>
<rect x="584.85" y="310.50" width="3.88" height="24.28" fill="#80c0e7"/>
<rect x="587.73" y="310.50" width="6.77" height="24.28" fill="#5ea7da"/>
<rect x="593.50" y="310.50" width="6.77" height="24.28" fill="#80c0e7"/>
<rect x="599.27" y="310.50" width="9.66" height="24.28" fill="#5ea7da"/>
<rect x="607.93" y="310.50" width="9.65" height="24.28" fill="#3f81c5"/>
<rect x="616.58" y="310.50" width="9.65" height="24.28" fill="#2a5cb0"/>
<rect x="625.24" y="310.50" width="8.65" height="24.28" fill="#213f8e"/>
<rect x="400.21" y="333.78" width="6.77" height="24.28" fill="#eff8fc"/>
<rect x="405.98" y="333.78" width="3.88" height="24.28" fill="#ffffff"/>
<rect x="408.86" y="333.78" width="3.89" height="24.28" fill="#eff8fc"/>
<rect x="411.75" y="333.78" width="9.65" height="24.28" fill="#ffffff"/>
<rect x="420.40" y="333.78" width="3.88" height="24.28" fill="#eff8fc"/>
<rect x="423.29" y="333.78" width="67.36" height="24.28" fill="#ffffff"/>
<rect x="489.64" y="333.78" width="6.77" height="24.28" fill="#eff8fc"/>
<rect x="495.41" y="333.78" width="3.88" height="24.28" fill="#dff0f9"/>
<rect x="498.30" y="333.78" width="9.66" height="24.28" fill="#eff8fc"/>
<rect x="506.95" y="333.78" width="15.42" height="24.28" fill="#dff0f9"/>
<rect x="521.38" y="333.78" width="3.88" height="24.28" fill="#c2e5f6"/>
<rect x="524.26" y="333.78" width="3.88" height="24.28" fill="#a4daf4"/>
<rect x="527.15" y="333.78" width="6.77" height="24.28" fill="#80c0e7"/>
<rect x="532.92" y="333.78" width="12.54" height="24.28" fill="#5ea7da"/>
<rect x="544.46" y="333.78" width="6.77" height="24.28" fill="#3f81c5"/>
<rect x="550.23" y="333.78" width="3.88" height="24.28" fill="#2a5cb0"/>
<rect x="553.11" y="333.78" width="6.77" height="24.28" fill="#213f8e"/>
<rect x="558.88" y="333.78" width="15.43" height="24.28" fill="#1c2d6e"/>
<rect x="573.31" y="333.78" width="6.77" height="24.28" fill="#213f8e"/>
<rect x="579.08" y="333.78" width="6.77" height="24.28" fill="#2a5cb0"/>
<rect x="584.85" y="333.78" width="15.42" height="24.28" fill="#3f81c5"/>
<rect x="599.27" y="333.78" width="21.20" height="24.28" fill="#5ea7da"/>
<rect x="619.47" y="333.78" width="14.42" height="24.28" fill="#3f81c5"/>
<rect x="400.21" y="357.06" width="32.74" height="24.28" fill="#eff8fc"/>
<rect x="431.94" y="357.06" width="26.96" height="24.28" fill="#ffffff"/>
<rect x="457.91" y="357.06" width="18.31" height="24.28" fill="#fff9e3"/>
<rect x="475.22" y="357.06" width="18.31" height="24.28" fill="#ffffff"/>
<rect x="492.53" y="357.06" width="29.85" height="24.28" fill="#eff8fc"/>
<rect x="521.38" y="357.06" width="6.77" height="24.28" fill="#dff0f9"/>
<rect x="527.15" y="357.06" width="9.66" height="24.28" fill="#c2e5f6"/>
<rect x="535.80" y="357.06" width="12.54" height="24.28" fill="#a4daf4"/>
<rect x="547.34" y="357.06" width="3.88" height="24.28" fill="#80c0e7"/>
<rect x="550.23" y="357.06" width="3.88" height="24.28" fill="#5ea7da"/>
<rect x="553.11" y="357.06" width="6.77" height="24.28" fill="#3f81c5"/>
<rect x="558.88" y="357.06" width="26.97" height="24.28" fill="#5ea7da"/>
<rect x="584.85" y="357.06" width="9.65" height="24.28" fill="#80c0e7"/>
<rect x="593.50" y="357.06" width="9.66" height="24.28" fill="#5ea7da"/>
<rect x="602.16" y="357.06" width="6.77" height="24.28" fill="#80c0e7"/>
<rect x="607.93" y="357.06" width="25.96" height="24.28" fill="#a4daf4"/>
<rect x="400.21" y="380.34" width="15.43" height="24.28" fill="#eff8fc"/>
<rect x="414.63" y="380.34" width="3.88" height="24.28" fill="#dff0f9"/>
<rect x="417.52" y="380.34" width="9.65" height="24.28" fill="#eff8fc"/>
<rect x="426.17" y="380.34" width="32.74" height="24.28" fill="#ffffff"/>
<rect x="457.91" y="380.34" width="12.54" height="24.28" fill="#fff9e3"/>
<rect x="469.45" y="380.34" width="21.19" height="24.28" fill="#ffffff"/>
<rect x="489.64" y="380.34" width="15.43" height="24.28" fill="#eff8fc"/>
<rect x="504.07" y="380.34" width="9.65" height="24.28" fill="#ffffff"/>
<rect x="512.72" y="380.34" width="12.54" height="24.28" fill="#eff8fc"/>
<rect x="524.26" y="380.34" width="3.88" height="24.28" fill="#dff0f9"/>
<rect x="527.15" y="380.34" width="6.77" height="24.28" fill="#c2e5f6"/>
<rect x="532.92" y="380.34" width="12.54" height="24.28" fill="#a4daf4"/>
<rect x="544.46" y="380.34" width="6.77" height="24.28" fill="#80c0e7"/>
<rect x="550.23" y="380.34" width="6.77" height="24.28" fill="#5ea7da"/>
<rect x="556.00" y="380.34" width="3.88" height="24.28" fill="#80c0e7"/>
<rect x="558.88" y="380.34" width="9.65" height="24.28" fill="#5ea7da"/>
<rect x="567.54" y="380.34" width="12.54" height="24.28" fill="#3f81c5"/>
<rect x="579.08" y="380.34" width="12.54" height="24.28" fill="#5ea7da"/>
<rect x="590.62" y="380.34" width="3.88" height="24.28" fill="#80c0e7"/>
<rect x="593.50" y="380.34" width="3.88" height="24.28" fill="#5ea7da"/>
<rect x="596.39" y="380.34" width="3.88" height="24.28" fill="#80c0e7"/>
<rect x="599.27" y="380.34" width="3.89" height="24.28" fill="#5ea7da"/>
<rect x="602.16" y="380.34" width="9.65" height="24.28" fill="#80c0e7"/>
<rect x="610.81" y="380.34" width="23.08" height="24.28" fill="#a4daf4"/>
<rect x="400.21" y="403.62" width="3.88" height="24.28" fill="#eff8fc"/>
<rect x="403.09" y="403.62" width="6.77" height="24.28" fill="#ffffff"/>
<rect x="408.86" y="403.62" width="6.77" height="24.28" fill="#eff8fc"/>
<rect x="414.63" y="403.62" width="3.88" height="24.28" fill="#dff0f9"/>
<rect x="417.52" y="403.62" width="9.65" height="24.28" fill="#eff8fc"/>
<rect x="426.17" y="403.62" width="64.47" height="24.28" fill="#ffffff"/>
<rect x="489.64" y="403.62" width="15.43" height="24.28" fill="#eff8fc"/>
<rect x="504.07" y="403.62" width="15.42" height="24.28" fill="#ffffff"/>
<rect x="518.49" y="403.62" width="6.77" height="24.28" fill="#eff8fc"/>
<rect x="524.26" y="403.62" width="3.88" height="24.28" fill="#dff0f9"/>
<rect x="527.15" y="403.62" width="3.89" height="24.28" fill="#c2e5f6"/>
<rect x="530.03" y="403.62" width="6.77" height="24.28" fill="#a4daf4"/>
<rect x="535.80" y="403.62" width="3.88" height="24.28" fill="#80c0e7"/>
<rect x="538.69" y="403.62" width="26.96" height="24.28" fill="#5ea7da"/>
<rect x="564.65" y="403.62" width="15.43" height="24.28" fill="#3f81c5"/>
<rect x="579.08" y="403.62" width="12.54" height="24.28" fill="#5ea7da"/>
<rect x="590.62" y="403.62" width="18.31" height="24.28" fill="#80c0e7"/>
<rect x="607.93" y="403.62" width="25.96" height="24.28" fill="#a4daf4"/>
<rect x="400.21" y="426.90" width="26.96" height="24.28" fill="#eff8fc"/>
<rect x="426.17" y="426.90" width="93.32" height="24.28" fill="#ffffff"/>
<rect x="518.49" y="426.90" width="6.77" height="24.28" fill="#eff8fc"/>
<rect x="524.26" y="426.90" width="3.88" height="24.28" fill="#dff0f9"/>
<rect x="527.15" y="426.90" width="3.89" height="24.28" fill="#c2e5f6"/>
<rect x="530.03" y="426.90" width="3.88" height="24.28" fill="#a4daf4"/>
<rect x="532.92" y="426.90" width="6.77" height="24.28" fill="#80c0e7"/>
<rect x="538.69" y="426.90" width="3.88" height="24.28" fill="#5ea7da"/>
<rect x="541.57" y="426.90" width="9.65" height="24.28" fill="#3f81c5"/>
<rect x="550.23" y="426.90" width="12.54" height="24.28" fill="#5ea7da"/>
<rect x="561.77" y="426.90" width="15.43" height="24.28" fill="#3f81c5"/>
<rect x="576.19" y="426.90" width="9.65" height="24.28" fill="#5ea7da"/>
<rect x="584.85" y="426.90" width="24.08" height="24.28" fill="#80c0e7"/>
<rect x="607.93" y="426.90" width="24.08" height="24.28" fill="#a4daf4"/>
<rect x="631.01" y="426.90" width="2.88" height="24.28" fill="#c2e5f6"/>
<rect x="400.21" y="450.18" width="29.85" height="24.28" fill="#eff8fc"/>
<rect x="429.06" y="450.18" width="84.66" height="24.28" fill="#ffffff"/>
<rect x="512.72" y="450.18" width="9.65" height="24.28" fill="#eff8fc"/>
<rect x="521.38" y="450.18" width="6.77" height="24.28" fill="#dff0f9"/>
<rect x="527.15" y="450.18" width="3.89" height="24.28" fill="#c2e5f6"/>
<rect x="530.03" y="450.18" width="3.88" height="24.28" fill="#a4daf4"/>
<rect x="532.92" y="450.18" width="3.88" height="24.28" fill="#80c0e7"/>
<rect x="535.80" y="450.18" width="9.65" height="24.28" fill="#5ea7da"/>
<rect x="544.46" y="450.18" width="6.77" height="24.28" fill="#3f81c5"/>
<rect x="550.23" y="450.18" width="15.42" height="24.28" fill="#5ea7da"/>
<rect x="564.65" y="450.18" width="9.66" height="24.28" fill="#3f81c5"/>
<rect x="573.31" y="450.18" width="6.77" height="24.28" fill="#5ea7da"/>
<rect x="579.08" y="450.18" width="15.42" height="24.28" fill="#80c0e7"/>
<rect x="593.50" y="450.18" width="32.74" height="24.28" fill="#a4daf4"/>
<rect x="625.24" y="450.18" width="6.77" height="24.28" fill="#c2e5f6"/>
<rect x="631.01" y="450.18" width="2.88" height="24.28" fill="#dff0f9"/>
<rect x="400.21" y="473.46" width="9.65" height="24.28" fill="#eff8fc"/>
<rect x="408.86" y="473.46" width="3.89" height="24.28" fill="#ffffff"/>
<rect x="411.75" y="473.46" width="18.31" height="24.28" fill="#eff8fc"/>
<rect x="429.06" y="473.46" width="44.27" height="24.28" fill="#ffffff"/>
<rect x="472.33" y="473.46" width="21.19" height="24.28" fill="#fff9e3"/>
<rect x="492.53" y="473.46" width="18.31" height="24.28" fill="#ffffff"/>
<rect x="509.84" y="473.46" width="6.77" height="24.28" fill="#eff8fc"/>
<rect x="515.61" y="473.46" width="9.65" height="24.28" fill="#dff0f9"/>
<rect x="524.26" y="473.46" width="3.88" height="24.28" fill="#c2e5f6"/>
<rect x="527.15" y="473.46" width="9.66" height="24.28" fill="#a4daf4"/>
<rect x="535.80" y="473.46" width="12.54" height="24.28" fill="#80c0e7"/>
<rect x="547.34" y="473.46" width="3.88" height="24.28" fill="#5ea7da"/>
<rect x="550.23" y="473.46" width="18.31" height="24.28" fill="#80c0e7"/>
<rect x="567.54" y="473.46" width="6.77" height="24.28" fill="#5ea7da"/>
<rect x="573.31" y="473.46" width="6.77" height="24.28" fill="#80c0e7"/>
<rect x="579.08" y="473.46" width="15.42" height="24.28" fill="#a4daf4"/>
<rect x="593.50" y="473.46" width="15.43" height="24.28" fill="#c2e5f6"/>
<rect x="607.93" y="473.46" width="12.54" height="24.28" fill="#a4daf4"/>
<rect x="619.47" y="473.46" width="9.65" height="24.28" fill="#c2e5f6"/>
<rect x="628.12" y="473.46" width="5.77" height="24.28" fill="#dff0f9"/>
<rect x="400.21" y="496.74" width="18.31" height="24.28" fill="#ffffff"/>
<rect x="417.52" y="496.74" width="15.43" height="24.28" fill="#eff8fc"/>
<rect x="431.94" y="496.74" width="9.65" height="24.28" fill="#ffffff"/>
<rect x="440.60" y="496.74" width="3.88" height="24.28" fill="#eff8fc"/>
<rect x="443.48" y="496.74" width="29.85" height="24.28" fill="#ffffff"/>
<rect x="472.33" y="496.74" width="3.88" height="24.28" fill="#fff9e3"/>
<rect x="475.22" y="496.74" width="12.54" height="24.28" fill="#fdeeb0"/>
<rect x="486.76" y="496.74" width="9.66" height="24.28" fill="#fff9e3"/>
<rect x="495.41" y="496.74" width="15.43" height="24.28" fill="#ffffff"/>
<rect x="509.84" y="496.74" width="6.77" height="24.28" fill="#eff8fc"/>
<rect x="515.61" y="496.74" width="9.65" height="24.28" fill="#dff0f9"/>
<rect x="524.26" y="496.74" width="3.88" height="24.28" fill="#c2e5f6"/>
<rect x="527.15" y="496.74" width="12.54" height="24.28" fill="#a4daf4"/>
<rect x="538.69" y="496.74" width="12.54" height="24.28" fill="#80c0e7"/>
<rect x="550.23" y="496.74" width="15.42" height="24.28" fill="#a4daf4"/>
<rect x="564.65" y="496.74" width="12.54" height="24.28" fill="#80c0e7"/>
<rect x="576.19" y="496.74" width="6.77" height="24.28" fill="#a4daf4"/>
<rect x="581.96" y="496.74" width="12.54" height="24.28" fill="#c2e5f6"/>
<rect x="593.50" y="496.74" width="6.77" height="24.28" fill="#dff0f9"/>
<rect x="599.27" y="496.74" width="26.97" height="24.28" fill="#c2e5f6"/>
<rect x="625.24" y="496.74" width="6.77" height="24.28" fill="#dff0f9"/>
<rect x="631.01" y="496.74" width="2.88" height="24.28" fill="#eff8fc"/>
<rect x="400.21" y="520.02" width="18.31" height="23.28" fill="#ffffff"/>
<rect x="417.52" y="520.02" width="18.31" height="23.28" fill="#eff8fc"/>
<rect x="434.83" y="520.02" width="38.50" height="23.28" fill="#ffffff"/>
<rect x="472.33" y="520.02" width="24.08" height="23.28" fill="#fff9e3"/>
<rect x="495.41" y="520.02" width="29.85" height="23.28" fill="#ffffff"/>
<rect x="524.26" y="520.02" width="3.88" height="23.28" fill="#eff8fc"/>
<rect x="527.15" y="520.02" width="6.77" height="23.28" fill="#dff0f9"/>
<rect x="532.92" y="520.02" width="3.88" height="23.28" fill="#c2e5f6"/>
<rect x="535.80" y="520.02" width="6.77" height="23.28" fill="#a4daf4"/>
<rect x="541.57" y="520.02" width="18.31" height="23.28" fill="#80c0e7"/>
<rect x="558.88" y="520.02" width="15.43" height="23.28" fill="#5ea7da"/>
<rect x="573.31" y="520.02" width="3.88" height="23.28" fill="#80c0e7"/>
<rect x="576.19" y="520.02" width="3.88" height="23.28" fill="#a4daf4"/>
<rect x="579.08" y="520.02" width="3.88" height="23.28" fill="#dff0f9"/>
<rect x="581.96" y="520.02" width="21.20" height="23.28" fill="#eff8fc"/>
<rect x="602.16" y="520.02" width="9.65" height="23.28" fill="#ffffff"/>
<rect x="610.81" y="520.02" width="6.77" height="23.28" fill="#eff8fc"/>
<rect x="616.58" y="520.02" width="3.88" height="23.28" fill="#dff0f9"/>
<rect x="619.47" y="520.02" width="6.77" height="23.28" fill="#a4daf4"/>
<rect x="625.24" y="520.02" width="3.88" height="23.28" fill="#dff0f9"/>
<rect x="628.12" y="520.02" width="5.77" height="23.28" fill="#eff8fc"/>
</g>
<rect x="400.50" y="310.50" width="233.00" height="233.00" fill="none" stroke="#b4b4b4" stroke-width="1"/>
<path d="M401.65 543.50v-6.5M401.65 310.50v6M424.73 543.50v-6.5M424.73 310.50v6M447.81 543.50v-6.5M447.81 310.50v6M470.89 543.50v-6.5M470.89 310.50v6M493.97 543.50v-6.5M493.97 310.50v6M517.05 543.50v-6.5M517.05 310.50v6M540.13 543.50v-6.5M540.13 310.50v6M563.21 543.50v-6.5M563.21 310.50v6M586.29 543.50v-6.5M586.29 310.50v6M609.37 543.50v-6.5M609.37 310.50v6M632.45 543.50v-6.5M632.45 310.50v6" stroke="#000" stroke-opacity="0.18" stroke-width="1" fill="none"/>
<path d="M400.50 322.14h6.5M633.50 322.14h-6.5M400.50 345.42h6.5M633.50 345.42h-6.5M400.50 368.70h6.5M633.50 368.70h-6.5M400.50 391.98h6.5M633.50 391.98h-6.5M400.50 415.26h6.5M633.50 415.26h-6.5M400.50 438.54h6.5M633.50 438.54h-6.5M400.50 461.82h6.5M633.50 461.82h-6.5M400.50 485.10h6.5M633.50 485.10h-6.5M400.50 508.38h6.5M633.50 508.38h-6.5M400.50 531.66h6.5M633.50 531.66h-6.5" stroke="#000" stroke-opacity="0.3" stroke-width="0.9" fill="none"/>
<circle cx="537.25" cy="322.29" r="1.55" fill="#ffff00"/>
<circle cx="540.13" cy="322.29" r="1.55" fill="#ffff00"/>
<circle cx="545.90" cy="322.29" r="1.55" fill="#ffff00"/>
<circle cx="548.78" cy="322.29" r="1.55" fill="#ffff00"/>
<circle cx="551.67" cy="322.29" r="1.55" fill="#ffff00"/>
<circle cx="554.55" cy="322.29" r="1.55" fill="#ffff00"/>
<circle cx="557.44" cy="322.29" r="1.55" fill="#ffff00"/>
<circle cx="560.32" cy="322.29" r="1.55" fill="#ffff00"/>
<circle cx="563.21" cy="322.29" r="1.55" fill="#ffff00"/>
<circle cx="566.10" cy="322.29" r="1.55" fill="#ffff00"/>
<circle cx="568.98" cy="322.29" r="1.55" fill="#ffff00"/>
<circle cx="571.87" cy="322.29" r="1.55" fill="#ffff00"/>
<circle cx="574.75" cy="322.29" r="1.55" fill="#ffff00"/>
<circle cx="548.78" cy="345.57" r="1.55" fill="#ffff00"/>
<circle cx="551.67" cy="345.57" r="1.55" fill="#ffff00"/>
<circle cx="554.55" cy="345.57" r="1.55" fill="#ffff00"/>
<circle cx="557.44" cy="345.57" r="1.55" fill="#ffff00"/>
<circle cx="560.32" cy="345.57" r="1.55" fill="#ffff00"/>
<circle cx="563.21" cy="345.57" r="1.55" fill="#ffff00"/>
<circle cx="566.10" cy="345.57" r="1.55" fill="#ffff00"/>
<circle cx="568.98" cy="345.57" r="1.55" fill="#ffff00"/>
<circle cx="571.87" cy="345.57" r="1.55" fill="#ffff00"/>
<circle cx="574.75" cy="345.57" r="1.55" fill="#ffff00"/>
<circle cx="577.63" cy="345.57" r="1.55" fill="#ffff00"/>
<circle cx="580.52" cy="345.57" r="1.55" fill="#ffff00"/>
<circle cx="583.40" cy="345.57" r="1.55" fill="#ffff00"/>
<circle cx="551.67" cy="368.85" r="1.55" fill="#ffff00"/>
<circle cx="554.55" cy="368.85" r="1.55" fill="#ffff00"/>
<circle cx="557.44" cy="368.85" r="1.55" fill="#ffff00"/>
<circle cx="560.32" cy="368.85" r="1.55" fill="#ffff00"/>
<circle cx="563.21" cy="368.85" r="1.55" fill="#ffff00"/>
<circle cx="566.10" cy="368.85" r="1.55" fill="#ffff00"/>
<circle cx="568.98" cy="368.85" r="1.55" fill="#ffff00"/>
<circle cx="571.87" cy="368.85" r="1.55" fill="#ffff00"/>
<circle cx="574.75" cy="368.85" r="1.55" fill="#ffff00"/>
<circle cx="577.63" cy="368.85" r="1.55" fill="#ffff00"/>
<circle cx="580.52" cy="368.85" r="1.55" fill="#ffff00"/>
<circle cx="583.40" cy="368.85" r="1.55" fill="#ffff00"/>
<circle cx="586.29" cy="368.85" r="1.55" fill="#ffff00"/>
<circle cx="548.78" cy="392.13" r="1.55" fill="#ffff00"/>
<circle cx="551.67" cy="392.13" r="1.55" fill="#ffff00"/>
<circle cx="554.55" cy="392.13" r="1.55" fill="#ffff00"/>
<circle cx="560.32" cy="392.13" r="1.55" fill="#ffff00"/>
<circle cx="563.21" cy="392.13" r="1.55" fill="#ffff00"/>
<circle cx="566.10" cy="392.13" r="1.55" fill="#ffff00"/>
<circle cx="568.98" cy="392.13" r="1.55" fill="#ffff00"/>
<circle cx="571.87" cy="392.13" r="1.55" fill="#ffff00"/>
<circle cx="574.75" cy="392.13" r="1.55" fill="#ffff00"/>
<circle cx="577.63" cy="392.13" r="1.55" fill="#ffff00"/>
<circle cx="580.52" cy="392.13" r="1.55" fill="#ffff00"/>
<circle cx="583.40" cy="392.13" r="1.55" fill="#ffff00"/>
<circle cx="586.29" cy="392.13" r="1.55" fill="#ffff00"/>
<circle cx="589.17" cy="392.13" r="1.55" fill="#ffff00"/>
<circle cx="594.94" cy="392.13" r="1.55" fill="#ffff00"/>
<circle cx="540.13" cy="415.41" r="1.55" fill="#ffff00"/>
<circle cx="543.01" cy="415.41" r="1.55" fill="#ffff00"/>
<circle cx="545.90" cy="415.41" r="1.55" fill="#ffff00"/>
<circle cx="548.78" cy="415.41" r="1.55" fill="#ffff00"/>
<circle cx="551.67" cy="415.41" r="1.55" fill="#ffff00"/>
<circle cx="554.55" cy="415.41" r="1.55" fill="#ffff00"/>
<circle cx="560.32" cy="415.41" r="1.55" fill="#ffff00"/>
<circle cx="563.21" cy="415.41" r="1.55" fill="#ffff00"/>
<circle cx="566.10" cy="415.41" r="1.55" fill="#ffff00"/>
<circle cx="568.98" cy="415.41" r="1.55" fill="#ffff00"/>
<circle cx="571.87" cy="415.41" r="1.55" fill="#ffff00"/>
<circle cx="574.75" cy="415.41" r="1.55" fill="#ffff00"/>
<circle cx="577.63" cy="415.41" r="1.55" fill="#ffff00"/>
<circle cx="580.52" cy="415.41" r="1.55" fill="#ffff00"/>
<circle cx="583.40" cy="415.41" r="1.55" fill="#ffff00"/>
<circle cx="540.13" cy="438.69" r="1.55" fill="#ffff00"/>
<circle cx="543.01" cy="438.69" r="1.55" fill="#ffff00"/>
<circle cx="545.90" cy="438.69" r="1.55" fill="#ffff00"/>
<circle cx="548.78" cy="438.69" r="1.55" fill="#ffff00"/>
<circle cx="551.67" cy="438.69" r="1.55" fill="#ffff00"/>
<circle cx="554.55" cy="438.69" r="1.55" fill="#ffff00"/>
<circle cx="557.44" cy="438.69" r="1.55" fill="#ffff00"/>
<circle cx="560.32" cy="438.69" r="1.55" fill="#ffff00"/>
<circle cx="563.21" cy="438.69" r="1.55" fill="#ffff00"/>
<circle cx="566.10" cy="438.69" r="1.55" fill="#ffff00"/>
<circle cx="568.98" cy="438.69" r="1.55" fill="#ffff00"/>
<circle cx="571.87" cy="438.69" r="1.55" fill="#ffff00"/>
<circle cx="574.75" cy="438.69" r="1.55" fill="#ffff00"/>
<circle cx="577.63" cy="438.69" r="1.55" fill="#ffff00"/>
<circle cx="540.13" cy="461.97" r="1.55" fill="#ffff00"/>
<circle cx="543.01" cy="461.97" r="1.55" fill="#ffff00"/>
<circle cx="545.90" cy="461.97" r="1.55" fill="#ffff00"/>
<circle cx="548.78" cy="461.97" r="1.55" fill="#ffff00"/>
<circle cx="551.67" cy="461.97" r="1.55" fill="#ffff00"/>
<circle cx="554.55" cy="461.97" r="1.55" fill="#ffff00"/>
<circle cx="557.44" cy="461.97" r="1.55" fill="#ffff00"/>
<circle cx="563.21" cy="461.97" r="1.55" fill="#ffff00"/>
<circle cx="566.10" cy="461.97" r="1.55" fill="#ffff00"/>
<circle cx="568.98" cy="461.97" r="1.55" fill="#ffff00"/>
<circle cx="571.87" cy="461.97" r="1.55" fill="#ffff00"/>
<circle cx="574.75" cy="461.97" r="1.55" fill="#ffff00"/>
<circle cx="543.01" cy="485.25" r="1.55" fill="#ffff00"/>
<circle cx="545.90" cy="485.25" r="1.55" fill="#ffff00"/>
<circle cx="548.78" cy="485.25" r="1.55" fill="#ffff00"/>
<circle cx="563.21" cy="531.81" r="1.55" fill="#ffff00"/>
<circle cx="566.10" cy="531.81" r="1.55" fill="#ffff00"/>
<path d="M657.25 323.10L664.50 312.90L671.75 323.10Z" fill="#9a1421"/>
<rect x="657.25" y="323.10" width="14.50" height="11.13" fill="#b11d28"/>
<rect x="657.25" y="333.43" width="14.50" height="11.13" fill="#d8262b"/>
<rect x="657.25" y="343.76" width="14.50" height="11.13" fill="#e9552a"/>
<rect x="657.25" y="354.09" width="14.50" height="11.13" fill="#f57f25"/>
<rect x="657.25" y="364.42" width="14.50" height="11.13" fill="#f99a2e"/>
<rect x="657.25" y="374.75" width="14.50" height="11.13" fill="#fcb646"/>
<rect x="657.25" y="385.08" width="14.50" height="11.13" fill="#fed97f"/>
<rect x="657.25" y="395.41" width="14.50" height="11.13" fill="#fdeeb0"/>
<rect x="657.25" y="405.74" width="14.50" height="11.13" fill="#fff9e3"/>
<rect x="657.25" y="416.07" width="14.50" height="11.13" fill="#ffffff"/>
<rect x="657.25" y="426.40" width="14.50" height="11.13" fill="#ffffff"/>
<rect x="657.25" y="436.73" width="14.50" height="11.13" fill="#eff8fc"/>
<rect x="657.25" y="447.06" width="14.50" height="11.13" fill="#dff0f9"/>
<rect x="657.25" y="457.39" width="14.50" height="11.13" fill="#c2e5f6"/>
<rect x="657.25" y="467.72" width="14.50" height="11.13" fill="#a4daf4"/>
<rect x="657.25" y="478.05" width="14.50" height="11.13" fill="#80c0e7"/>
<rect x="657.25" y="488.38" width="14.50" height="11.13" fill="#5ea7da"/>
<rect x="657.25" y="498.71" width="14.50" height="11.13" fill="#3f81c5"/>
<rect x="657.25" y="509.04" width="14.50" height="11.13" fill="#2a5cb0"/>
<rect x="657.25" y="519.37" width="14.50" height="10.33" fill="#213f8e"/>
<path d="M657.25 529.70L664.50 541.10L671.75 529.70Z" fill="#1c2d6e"/>
<path d="M657.25 323.10H671.75M657.25 333.43H671.75M657.25 343.76H671.75M657.25 354.09H671.75M657.25 364.42H671.75M657.25 374.75H671.75M657.25 385.08H671.75M657.25 395.41H671.75M657.25 405.74H671.75M657.25 416.07H671.75M657.25 426.40H671.75M657.25 436.73H671.75M657.25 447.06H671.75M657.25 457.39H671.75M657.25 467.72H671.75M657.25 478.05H671.75M657.25 488.38H671.75M657.25 498.71H671.75M657.25 509.04H671.75M657.25 519.37H671.75M657.25 529.70H671.75" fill="none" stroke="#000" stroke-opacity="0.13" stroke-width="0.7"/>
<path d="M657.25 323.10L664.50 312.90L671.75 323.10V529.70L664.50 541.10L657.25 529.70Z" fill="none" stroke="#000" stroke-opacity="0.2" stroke-width="0.7"/>
<text x="677.35" y="326.80" class="cb">5</text>
<text x="677.35" y="347.46" class="cb">4</text>
<text x="677.35" y="368.12" class="cb">3</text>
<text x="677.35" y="388.78" class="cb">2</text>
<text x="677.35" y="409.44" class="cb">1</text>
<text x="677.35" y="430.10" class="cb">0</text>
<text x="676.15" y="450.76" class="cb">-1</text>
<text x="676.15" y="471.42" class="cb">-2</text>
<text x="676.15" y="492.08" class="cb">-3</text>
<text x="676.15" y="512.74" class="cb">-4</text>
<text x="676.15" y="533.40" class="cb">-5</text>
<text x="400.25" y="305.70" class="tt">CTL - NoAraon</text>
<text x="634.15" y="305.60" class="tt" text-anchor="end">Meridional wind</text>
<text x="403.85" y="326.70" class="pl">(d)</text>
<text x="390.55" y="325.74" class="tk" text-anchor="end">100</text>
<text x="390.55" y="349.02" class="tk" text-anchor="end">200</text>
<text x="390.55" y="372.30" class="tk" text-anchor="end">300</text>
<text x="390.55" y="395.58" class="tk" text-anchor="end">400</text>
<text x="390.55" y="418.86" class="tk" text-anchor="end">500</text>
<text x="390.55" y="442.14" class="tk" text-anchor="end">600</text>
<text x="390.55" y="465.42" class="tk" text-anchor="end">700</text>
<text x="390.55" y="488.70" class="tk" text-anchor="end">800</text>
<text x="390.55" y="511.98" class="tk" text-anchor="end">900</text>
<text x="390.55" y="535.26" class="tk" text-anchor="end">1000</text>
<text x="401.65" y="562.30" class="tk" text-anchor="middle">0</text>
<text x="424.73" y="562.30" class="tk" text-anchor="middle">24</text>
<text x="447.81" y="562.30" class="tk" text-anchor="middle">48</text>
<text x="470.89" y="562.30" class="tk" text-anchor="middle">72</text>
<text x="493.97" y="562.30" class="tk" text-anchor="middle">96</text>
<text x="517.05" y="562.30" class="tk" text-anchor="middle">120</text>
<text x="540.13" y="562.30" class="tk" text-anchor="middle">144</text>
<text x="563.21" y="562.30" class="tk" text-anchor="middle">168</text>
<text x="586.29" y="562.30" class="tk" text-anchor="middle">192</text>
<text x="609.37" y="562.30" class="tk" text-anchor="middle">216</text>
<text x="632.45" y="562.30" class="tk" text-anchor="middle">240</text>
<text x="517.45" y="580.10" class="ax" text-anchor="middle">Forecast length (h)</text>
<text transform="translate(356.45,426.50) rotate(-90)" class="ax" text-anchor="middle">Pressure level (hPa)</text>
</svg>
</body></html>
